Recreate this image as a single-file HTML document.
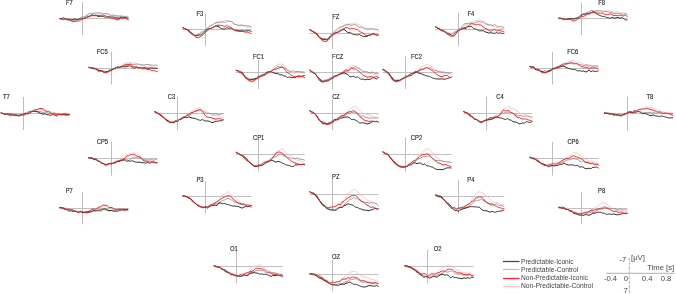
<!DOCTYPE html><html><head><meta charset="utf-8"><style>html,body{margin:0;padding:0;background:#fff;width:676px;height:294px;overflow:hidden;position:relative}</style></head><body><svg width="676" height="294" viewBox="0 0 676 294" style="position:absolute;left:0;top:0;will-change:transform">
<line x1="59.53" y1="18.50" x2="128.53" y2="18.50" stroke="#bababa" stroke-width="0.9"/>
<line x1="82.50" y1="1.84" x2="82.50" y2="35.18" stroke="#bdbdbd" stroke-width="1.0"/>
<line x1="182.53" y1="29.50" x2="251.53" y2="29.50" stroke="#bababa" stroke-width="0.9"/>
<line x1="205.50" y1="13.41" x2="205.50" y2="46.30" stroke="#bdbdbd" stroke-width="1.0"/>
<line x1="309.53" y1="33.50" x2="378.53" y2="33.50" stroke="#bababa" stroke-width="0.9"/>
<line x1="332.50" y1="19.48" x2="332.50" y2="49.01" stroke="#bdbdbd" stroke-width="1.0"/>
<line x1="435.30" y1="29.50" x2="504.30" y2="29.50" stroke="#bababa" stroke-width="0.9"/>
<line x1="458.50" y1="12.65" x2="458.50" y2="46.30" stroke="#bdbdbd" stroke-width="1.0"/>
<line x1="558.46" y1="18.50" x2="627.46" y2="18.50" stroke="#bababa" stroke-width="0.9"/>
<line x1="581.50" y1="2.29" x2="581.50" y2="35.18" stroke="#bdbdbd" stroke-width="1.0"/>
<line x1="88.60" y1="68.50" x2="157.60" y2="68.50" stroke="#bababa" stroke-width="0.9"/>
<line x1="111.50" y1="51.88" x2="111.50" y2="84.46" stroke="#bdbdbd" stroke-width="1.0"/>
<line x1="235.77" y1="72.50" x2="304.77" y2="72.50" stroke="#bababa" stroke-width="0.9"/>
<line x1="258.50" y1="59.93" x2="258.50" y2="88.99" stroke="#bdbdbd" stroke-width="1.0"/>
<line x1="309.53" y1="72.50" x2="378.53" y2="72.50" stroke="#bababa" stroke-width="0.9"/>
<line x1="332.50" y1="59.93" x2="332.50" y2="89.30" stroke="#bdbdbd" stroke-width="1.0"/>
<line x1="382.53" y1="72.50" x2="451.53" y2="72.50" stroke="#bababa" stroke-width="0.9"/>
<line x1="405.50" y1="56.41" x2="405.50" y2="88.99" stroke="#bdbdbd" stroke-width="1.0"/>
<line x1="529.53" y1="68.50" x2="598.53" y2="68.50" stroke="#bababa" stroke-width="0.9"/>
<line x1="552.50" y1="51.88" x2="552.50" y2="84.46" stroke="#bdbdbd" stroke-width="1.0"/>
<line x1="0.71" y1="113.50" x2="69.71" y2="113.50" stroke="#bababa" stroke-width="0.9"/>
<line x1="23.50" y1="96.88" x2="23.50" y2="130.08" stroke="#bdbdbd" stroke-width="1.0"/>
<line x1="154.53" y1="113.50" x2="223.53" y2="113.50" stroke="#bababa" stroke-width="0.9"/>
<line x1="177.50" y1="96.88" x2="177.50" y2="130.08" stroke="#bdbdbd" stroke-width="1.0"/>
<line x1="309.53" y1="113.50" x2="378.53" y2="113.50" stroke="#bababa" stroke-width="0.9"/>
<line x1="332.50" y1="99.18" x2="332.50" y2="130.08" stroke="#bdbdbd" stroke-width="1.0"/>
<line x1="463.30" y1="113.50" x2="532.30" y2="113.50" stroke="#bababa" stroke-width="0.9"/>
<line x1="486.50" y1="96.88" x2="486.50" y2="130.54" stroke="#bdbdbd" stroke-width="1.0"/>
<line x1="604.05" y1="113.50" x2="673.05" y2="113.50" stroke="#bababa" stroke-width="0.9"/>
<line x1="627.50" y1="96.88" x2="627.50" y2="130.54" stroke="#bdbdbd" stroke-width="1.0"/>
<line x1="88.30" y1="158.50" x2="157.30" y2="158.50" stroke="#bababa" stroke-width="0.9"/>
<line x1="111.50" y1="141.88" x2="111.50" y2="175.54" stroke="#bdbdbd" stroke-width="1.0"/>
<line x1="235.77" y1="154.50" x2="304.77" y2="154.50" stroke="#bababa" stroke-width="0.9"/>
<line x1="258.50" y1="139.48" x2="258.50" y2="170.99" stroke="#bdbdbd" stroke-width="1.0"/>
<line x1="382.53" y1="154.50" x2="451.53" y2="154.50" stroke="#bababa" stroke-width="0.9"/>
<line x1="405.50" y1="137.65" x2="405.50" y2="171.61" stroke="#bdbdbd" stroke-width="1.0"/>
<line x1="529.53" y1="158.50" x2="598.53" y2="158.50" stroke="#bababa" stroke-width="0.9"/>
<line x1="552.50" y1="141.88" x2="552.50" y2="175.54" stroke="#bdbdbd" stroke-width="1.0"/>
<line x1="59.23" y1="208.50" x2="128.23" y2="208.50" stroke="#bababa" stroke-width="0.9"/>
<line x1="82.50" y1="191.93" x2="82.50" y2="224.36" stroke="#bdbdbd" stroke-width="1.0"/>
<line x1="182.53" y1="196.50" x2="251.53" y2="196.50" stroke="#bababa" stroke-width="0.9"/>
<line x1="205.50" y1="181.18" x2="205.50" y2="213.61" stroke="#bdbdbd" stroke-width="1.0"/>
<line x1="309.53" y1="194.50" x2="378.53" y2="194.50" stroke="#bababa" stroke-width="0.9"/>
<line x1="332.50" y1="178.41" x2="332.50" y2="210.54" stroke="#bdbdbd" stroke-width="1.0"/>
<line x1="435.30" y1="196.50" x2="504.30" y2="196.50" stroke="#bababa" stroke-width="0.9"/>
<line x1="458.50" y1="180.41" x2="458.50" y2="213.61" stroke="#bdbdbd" stroke-width="1.0"/>
<line x1="558.46" y1="208.50" x2="627.46" y2="208.50" stroke="#bababa" stroke-width="0.9"/>
<line x1="581.50" y1="191.93" x2="581.50" y2="224.36" stroke="#bdbdbd" stroke-width="1.0"/>
<line x1="213.66" y1="266.50" x2="282.66" y2="266.50" stroke="#bababa" stroke-width="0.9"/>
<line x1="236.50" y1="250.71" x2="236.50" y2="283.14" stroke="#bdbdbd" stroke-width="1.0"/>
<line x1="309.53" y1="274.50" x2="378.53" y2="274.50" stroke="#bababa" stroke-width="0.9"/>
<line x1="332.50" y1="259.53" x2="332.50" y2="291.20" stroke="#bdbdbd" stroke-width="1.0"/>
<line x1="404.53" y1="266.50" x2="473.53" y2="266.50" stroke="#bababa" stroke-width="0.9"/>
<line x1="427.50" y1="249.94" x2="427.50" y2="283.14" stroke="#bdbdbd" stroke-width="1.0"/>
<path d="M59.53,18.66 L60.49,18.80 L61.45,18.94 L62.41,18.84 L63.37,18.60 L64.33,18.43 L65.28,18.32 L66.24,18.39 L67.20,18.53 L68.16,19.03 L69.12,19.54 L70.08,19.52 L71.03,19.43 L71.99,19.43 L72.95,19.41 L73.91,19.83 L74.87,20.19 L75.83,20.11 L76.78,19.95 L77.74,19.79 L78.70,19.54 L79.66,18.80 L80.62,18.03 L81.58,17.80 L82.53,17.59 L83.49,17.18 L84.45,16.74 L85.41,15.99 L86.37,15.27 L87.33,15.37 L88.28,15.54 L89.24,15.27 L90.20,15.07 L91.16,15.43 L92.12,15.80 L93.08,15.22 L94.03,14.62 L94.99,14.41 L95.95,14.18 L96.91,14.35 L97.87,14.52 L98.83,14.17 L99.78,13.86 L100.74,13.95 L101.70,14.06 L102.66,13.75 L103.62,13.46 L104.58,13.64 L105.53,13.86 L106.49,14.22 L107.45,14.64 L108.41,14.84 L109.37,15.07 L110.33,15.23 L111.28,15.35 L112.24,15.31 L113.20,15.27 L114.16,15.84 L115.12,16.39 L116.08,16.49 L117.03,16.55 L117.99,16.80 L118.95,17.00 L119.91,16.91 L120.87,16.82 L121.83,17.05 L122.78,17.32 L123.74,17.16 L124.70,17.02 L125.66,17.21 L126.62,17.41 L127.58,17.65 L128.53,17.89 M182.53,27.64 L183.49,28.03 L184.45,28.41 L185.41,28.69 L186.37,28.98 L187.33,29.45 L188.28,30.07 L189.24,30.41 L190.20,30.98 L191.16,31.94 L192.12,32.86 L193.08,34.11 L194.03,35.05 L194.99,35.81 L195.95,36.37 L196.91,35.75 L197.87,34.99 L198.83,34.30 L199.78,33.54 L200.74,33.31 L201.70,32.93 L202.66,32.38 L203.62,31.79 L204.58,30.37 L205.53,29.01 L206.49,28.64 L207.45,28.25 L208.41,27.13 L209.37,26.03 L210.33,25.71 L211.28,25.46 L212.24,24.72 L213.20,24.02 L214.16,23.36 L215.12,22.76 L216.08,22.70 L217.03,22.73 L217.99,21.92 L218.95,21.22 L219.91,21.05 L220.87,20.92 L221.83,21.43 L222.78,21.90 L223.74,21.10 L224.70,20.24 L225.66,20.69 L226.62,21.20 L227.58,20.64 L228.53,20.28 L229.49,20.45 L230.45,20.85 L231.41,21.83 L232.37,22.84 L233.33,23.59 L234.28,24.18 L235.24,24.59 L236.20,24.92 L237.16,25.08 L238.12,25.20 L239.08,25.67 L240.03,26.14 L240.99,25.53 L241.95,24.89 L242.91,25.39 L243.87,25.88 L244.83,26.07 L245.78,26.30 L246.74,26.98 L247.70,27.69 L248.66,27.09 L249.62,26.51 L250.58,27.16 L251.53,27.79 M309.53,29.58 L310.49,30.17 L311.45,30.60 L312.41,30.98 L313.37,31.30 L314.33,31.82 L315.28,32.42 L316.24,33.71 L317.20,35.14 L318.16,35.86 L319.12,36.56 L320.08,37.45 L321.03,38.16 L321.99,38.97 L322.95,39.72 L323.91,39.74 L324.87,39.61 L325.83,40.24 L326.78,40.62 L327.74,39.87 L328.70,38.82 L329.66,37.56 L330.62,36.22 L331.58,35.14 L332.53,34.19 L333.49,33.77 L334.45,33.37 L335.41,32.11 L336.37,30.85 L337.33,30.23 L338.28,29.60 L339.24,28.94 L340.20,28.25 L341.16,27.45 L342.12,26.69 L343.08,25.93 L344.03,25.30 L344.99,24.95 L345.95,24.71 L346.91,24.30 L347.87,23.94 L348.83,23.83 L349.78,23.71 L350.74,23.81 L351.70,23.88 L352.66,23.53 L353.62,23.24 L354.58,22.94 L355.53,22.80 L356.49,23.58 L357.45,24.54 L358.41,24.28 L359.37,24.06 L360.33,25.12 L361.28,26.10 L362.24,26.67 L363.20,27.24 L364.16,27.72 L365.12,28.17 L366.08,28.31 L367.03,28.41 L367.99,28.49 L368.95,28.49 L369.91,28.78 L370.87,29.07 L371.83,29.01 L372.78,29.03 L373.74,29.48 L374.70,29.99 L375.66,29.64 L376.62,29.31 L377.58,30.46 L378.53,31.59 M435.30,26.87 L436.26,27.32 L437.21,27.70 L438.17,27.98 L439.13,28.20 L440.09,28.69 L441.05,29.20 L442.01,29.98 L442.96,30.79 L443.92,31.34 L444.88,31.86 L445.84,32.24 L446.80,32.54 L447.76,33.32 L448.71,34.10 L449.67,34.25 L450.63,34.30 L451.59,34.29 L452.55,34.07 L453.51,33.70 L454.46,33.10 L455.42,32.46 L456.38,31.75 L457.34,30.74 L458.30,29.81 L459.26,29.17 L460.21,28.52 L461.17,28.18 L462.13,27.85 L463.09,27.00 L464.05,26.15 L465.01,25.57 L465.96,24.96 L466.92,24.62 L467.88,24.30 L468.84,23.37 L469.80,22.50 L470.76,22.35 L471.71,22.22 L472.67,21.50 L473.63,20.83 L474.59,20.87 L475.55,20.98 L476.51,20.57 L477.46,20.19 L478.42,19.62 L479.38,19.14 L480.34,19.93 L481.30,20.85 L482.26,20.96 L483.21,21.25 L484.17,21.58 L485.13,21.93 L486.09,23.11 L487.05,24.17 L488.01,24.67 L488.96,25.13 L489.92,25.20 L490.88,25.24 L491.84,25.71 L492.80,26.14 L493.76,26.61 L494.71,27.00 L495.67,27.29 L496.63,27.56 L497.59,27.60 L498.55,27.69 L499.51,27.92 L500.46,28.18 L501.42,28.42 L502.38,28.68 L503.34,28.14 L504.30,27.59 M558.46,18.05 L559.42,18.13 L560.38,18.12 L561.34,18.19 L562.30,18.28 L563.25,18.38 L564.21,18.47 L565.17,18.90 L566.13,19.32 L567.09,19.13 L568.05,18.93 L569.00,19.34 L569.96,19.74 L570.92,19.30 L571.88,18.89 L572.84,19.01 L573.80,19.09 L574.75,19.06 L575.71,18.90 L576.67,18.56 L577.63,18.08 L578.59,17.64 L579.55,17.15 L580.50,16.82 L581.46,16.52 L582.42,16.04 L583.38,15.53 L584.34,14.47 L585.30,13.43 L586.25,13.47 L587.21,13.58 L588.17,12.96 L589.13,12.39 L590.09,12.47 L591.05,12.58 L592.00,11.98 L592.96,11.40 L593.92,11.07 L594.88,10.76 L595.84,10.98 L596.80,11.23 L597.75,11.10 L598.71,10.99 L599.67,10.69 L600.63,10.42 L601.59,10.51 L602.55,10.63 L603.50,10.69 L604.46,10.77 L605.42,10.89 L606.38,11.05 L607.34,10.73 L608.30,10.42 L609.25,10.68 L610.21,10.93 L611.17,11.34 L612.13,11.75 L613.09,11.93 L614.05,12.10 L615.00,12.05 L615.96,12.00 L616.92,11.85 L617.88,11.70 L618.84,12.53 L619.80,13.35 L620.75,13.11 L621.71,12.86 L622.67,12.82 L623.63,12.79 L624.59,13.51 L625.55,14.23 L626.50,14.25 L627.46,14.28 M88.60,67.18 L89.56,67.34 L90.52,67.47 L91.48,68.03 L92.44,68.88 L93.40,68.76 L94.35,68.66 L95.31,69.18 L96.27,69.73 L97.23,69.61 L98.19,69.48 L99.15,69.65 L100.10,69.76 L101.06,70.39 L102.02,71.02 L102.98,71.47 L103.94,71.86 L104.90,71.71 L105.85,71.44 L106.81,71.57 L107.77,71.58 L108.73,71.28 L109.69,70.93 L110.65,70.24 L111.60,69.58 L112.56,69.33 L113.52,69.08 L114.48,68.60 L115.44,68.09 L116.40,68.13 L117.35,68.12 L118.31,67.81 L119.27,67.44 L120.23,66.61 L121.19,65.78 L122.15,65.04 L123.10,64.35 L124.06,63.89 L125.02,63.43 L125.98,63.14 L126.94,62.91 L127.90,62.91 L128.85,62.99 L129.81,62.54 L130.77,62.18 L131.73,62.76 L132.69,63.39 L133.65,62.94 L134.60,62.50 L135.56,62.97 L136.52,63.49 L137.48,64.07 L138.44,64.66 L139.40,65.04 L140.35,65.38 L141.31,65.10 L142.27,64.80 L143.23,65.25 L144.19,65.69 L145.15,66.24 L146.10,66.79 L147.06,66.62 L148.02,66.44 L148.98,65.79 L149.94,65.15 L150.90,65.83 L151.85,66.54 L152.81,67.19 L153.77,67.86 L154.73,67.27 L155.69,66.69 L156.65,67.37 L157.60,68.05 M235.77,70.18 L236.73,70.52 L237.69,70.96 L238.64,71.28 L239.60,71.64 L240.56,71.98 L241.52,72.51 L242.48,73.41 L243.44,74.60 L244.39,76.43 L245.35,78.23 L246.31,78.80 L247.27,79.04 L248.23,79.63 L249.19,80.01 L250.14,80.44 L251.10,80.72 L252.06,80.46 L253.02,80.12 L253.98,79.46 L254.94,78.65 L255.89,78.43 L256.85,78.16 L257.81,77.50 L258.77,76.89 L259.73,76.24 L260.69,75.60 L261.64,75.35 L262.60,75.11 L263.56,74.30 L264.52,73.49 L265.48,73.21 L266.44,72.96 L267.39,72.31 L268.35,71.62 L269.31,71.68 L270.27,71.65 L271.23,70.43 L272.19,69.06 L273.14,68.21 L274.10,67.38 L275.06,66.45 L276.02,65.72 L276.98,65.26 L277.94,64.86 L278.89,64.28 L279.85,63.85 L280.81,64.01 L281.77,64.40 L282.73,64.78 L283.69,65.48 L284.64,65.93 L285.60,66.44 L286.56,68.10 L287.52,69.56 L288.48,69.86 L289.44,70.11 L290.39,71.15 L291.35,72.14 L292.31,72.39 L293.27,72.57 L294.23,72.71 L295.19,72.76 L296.14,72.40 L297.10,71.99 L298.06,72.13 L299.02,72.28 L299.98,72.54 L300.94,72.77 L301.89,72.94 L302.85,73.10 L303.81,72.85 L304.77,72.62 M309.53,70.18 L310.49,70.84 L311.45,71.43 L312.41,71.94 L313.37,72.43 L314.33,73.21 L315.28,74.15 L316.24,75.36 L317.20,76.85 L318.16,78.31 L319.12,79.69 L320.08,80.47 L321.03,80.81 L321.99,81.83 L322.95,82.50 L323.91,81.76 L324.87,80.87 L325.83,80.34 L326.78,79.87 L327.74,79.49 L328.70,79.03 L329.66,78.40 L330.62,77.76 L331.58,77.19 L332.53,76.67 L333.49,76.43 L334.45,76.23 L335.41,76.10 L336.37,75.96 L337.33,75.32 L338.28,74.64 L339.24,74.36 L340.20,74.07 L341.16,73.18 L342.12,72.26 L343.08,72.18 L344.03,72.05 L344.99,70.90 L345.95,69.64 L346.91,69.17 L347.87,68.74 L348.83,67.67 L349.78,66.79 L350.74,66.42 L351.70,66.14 L352.66,65.79 L353.62,65.56 L354.58,65.60 L355.53,65.78 L356.49,66.40 L357.45,67.22 L358.41,67.76 L359.37,68.35 L360.33,69.26 L361.28,70.08 L362.24,70.97 L363.20,71.85 L364.16,71.97 L365.12,72.04 L366.08,72.61 L367.03,73.10 L367.99,73.41 L368.95,73.65 L369.91,73.65 L370.87,73.61 L371.83,73.80 L372.78,73.99 L373.74,74.09 L374.70,74.17 L375.66,74.34 L376.62,74.50 L377.58,74.08 L378.53,73.68 M382.53,69.41 L383.49,69.92 L384.45,70.47 L385.41,71.32 L386.37,72.45 L387.33,72.57 L388.28,72.86 L389.24,74.34 L390.20,76.10 L391.16,77.70 L392.12,79.23 L393.08,80.32 L394.03,80.97 L394.99,81.25 L395.95,81.15 L396.91,80.90 L397.87,80.52 L398.83,79.96 L399.78,79.49 L400.74,79.13 L401.70,78.75 L402.66,78.01 L403.62,77.25 L404.58,77.22 L405.53,77.17 L406.49,76.48 L407.45,75.75 L408.41,75.74 L409.37,75.73 L410.33,75.36 L411.28,75.00 L412.24,74.26 L413.20,73.54 L414.16,72.34 L415.12,71.11 L416.08,71.28 L417.03,71.39 L417.99,70.48 L418.95,69.47 L419.91,68.34 L420.87,67.23 L421.83,66.44 L422.78,65.81 L423.74,65.82 L424.70,65.87 L425.66,65.11 L426.62,64.48 L427.58,64.53 L428.53,64.79 L429.49,65.24 L430.45,65.96 L431.41,67.01 L432.37,68.14 L433.33,68.23 L434.28,68.21 L435.24,69.81 L436.20,71.41 L437.16,71.66 L438.12,71.85 L439.08,72.51 L440.03,73.06 L440.99,73.60 L441.95,74.03 L442.91,74.08 L443.87,74.08 L444.83,73.52 L445.78,72.96 L446.74,73.66 L447.70,74.33 L448.66,74.15 L449.62,73.96 L450.58,73.75 L451.53,73.54 M529.53,66.41 L530.49,66.80 L531.45,67.20 L532.41,67.66 L533.37,68.16 L534.33,68.54 L535.28,68.92 L536.24,69.24 L537.20,69.58 L538.16,69.78 L539.12,69.95 L540.08,70.21 L541.03,70.39 L541.99,70.92 L542.95,71.41 L543.91,71.43 L544.87,71.39 L545.83,71.71 L546.78,71.95 L547.74,71.18 L548.70,70.33 L549.66,69.76 L550.62,69.15 L551.58,68.72 L552.53,68.28 L553.49,68.26 L554.45,68.19 L555.41,68.05 L556.37,67.89 L557.33,66.91 L558.28,65.95 L559.24,65.39 L560.20,64.84 L561.16,64.61 L562.12,64.40 L563.08,64.22 L564.03,64.05 L564.99,63.51 L565.95,62.96 L566.91,62.48 L567.87,62.03 L568.83,61.71 L569.78,61.48 L570.74,61.05 L571.70,60.68 L572.66,60.73 L573.62,60.85 L574.58,61.01 L575.53,61.25 L576.49,61.82 L577.45,62.50 L578.41,62.02 L579.37,61.57 L580.33,62.37 L581.28,63.11 L582.24,63.62 L583.20,64.12 L584.16,64.25 L585.12,64.35 L586.08,64.60 L587.03,64.83 L587.99,64.97 L588.95,65.08 L589.91,65.04 L590.87,64.99 L591.83,65.43 L592.78,65.88 L593.74,66.18 L594.70,66.49 L595.66,66.24 L596.62,66.00 L597.58,66.31 L598.53,66.61 M0.71,112.94 L1.67,113.10 L2.63,113.16 L3.58,113.36 L4.54,113.61 L5.50,113.73 L6.46,113.87 L7.42,113.86 L8.38,113.87 L9.33,114.11 L10.29,114.34 L11.25,114.56 L12.21,114.75 L13.17,115.05 L14.13,115.35 L15.08,115.86 L16.04,116.34 L17.00,116.02 L17.96,115.63 L18.92,115.01 L19.88,114.31 L20.83,114.85 L21.79,115.35 L22.75,114.50 L23.71,113.66 L24.67,113.18 L25.63,112.67 L26.58,112.45 L27.54,112.23 L28.50,111.80 L29.46,111.39 L30.42,111.11 L31.38,110.83 L32.33,110.43 L33.29,110.06 L34.25,109.79 L35.21,109.57 L36.17,109.69 L37.13,109.85 L38.08,109.85 L39.04,109.90 L40.00,109.51 L40.96,109.16 L41.92,109.54 L42.88,109.94 L43.83,109.90 L44.79,109.89 L45.75,110.13 L46.71,110.42 L47.67,110.52 L48.63,110.69 L49.58,111.09 L50.54,111.51 L51.50,112.05 L52.46,112.54 L53.42,112.46 L54.38,112.37 L55.33,112.88 L56.29,113.37 L57.25,113.31 L58.21,113.20 L59.17,113.74 L60.13,114.22 L61.08,114.03 L62.04,113.83 L63.00,113.88 L63.96,113.98 L64.92,113.82 L65.88,113.68 L66.83,113.66 L67.79,113.65 L68.75,114.13 L69.71,114.60 M154.53,111.72 L155.49,112.05 L156.45,112.17 L157.41,112.79 L158.37,113.72 L159.33,114.03 L160.28,114.45 L161.24,115.13 L162.20,115.95 L163.16,117.18 L164.12,118.41 L165.08,119.42 L166.03,120.26 L166.99,120.81 L167.95,121.29 L168.91,121.45 L169.87,121.52 L170.83,121.87 L171.78,122.11 L172.74,122.65 L173.70,123.05 L174.66,121.95 L175.62,120.77 L176.58,120.71 L177.53,120.63 L178.49,120.20 L179.45,119.73 L180.41,119.55 L181.37,119.34 L182.33,118.58 L183.28,117.81 L184.24,117.14 L185.20,116.44 L186.16,115.70 L187.12,114.94 L188.08,114.61 L189.03,114.27 L189.99,113.25 L190.95,112.15 L191.91,111.27 L192.87,110.41 L193.83,109.73 L194.78,109.20 L195.74,108.82 L196.70,108.50 L197.66,107.99 L198.62,107.61 L199.58,107.57 L200.53,107.71 L201.49,108.16 L202.45,108.83 L203.41,109.18 L204.37,109.62 L205.33,110.50 L206.28,111.31 L207.24,112.05 L208.20,112.83 L209.16,113.69 L210.12,114.50 L211.08,115.06 L212.03,115.49 L212.99,115.55 L213.95,115.48 L214.91,115.42 L215.87,115.34 L216.83,115.55 L217.78,115.84 L218.74,116.02 L219.70,116.23 L220.66,116.81 L221.62,117.40 L222.58,117.61 L223.53,117.82 M309.53,110.65 L310.49,111.26 L311.45,112.16 L312.41,112.71 L313.37,113.18 L314.33,113.89 L315.28,114.72 L316.24,115.51 L317.20,116.48 L318.16,118.11 L319.12,119.73 L320.08,120.87 L321.03,121.81 L321.99,122.22 L322.95,122.53 L323.91,123.53 L324.87,124.40 L325.83,124.33 L326.78,124.10 L327.74,123.79 L328.70,123.28 L329.66,123.47 L330.62,123.58 L331.58,122.62 L332.53,121.68 L333.49,121.23 L334.45,120.71 L335.41,119.97 L336.37,119.21 L337.33,118.73 L338.28,118.27 L339.24,117.58 L340.20,116.92 L341.16,116.44 L342.12,115.93 L343.08,115.34 L344.03,114.69 L344.99,114.12 L345.95,113.45 L346.91,112.22 L347.87,111.00 L348.83,110.11 L349.78,109.35 L350.74,108.60 L351.70,107.81 L352.66,107.17 L353.62,106.68 L354.58,106.40 L355.53,106.47 L356.49,106.86 L357.45,107.69 L358.41,108.59 L359.37,109.56 L360.33,110.80 L361.28,111.75 L362.24,112.64 L363.20,113.39 L364.16,113.61 L365.12,113.77 L366.08,114.02 L367.03,114.29 L367.99,114.55 L368.95,114.75 L369.91,114.91 L370.87,115.09 L371.83,115.75 L372.78,116.50 L373.74,116.85 L374.70,117.26 L375.66,117.33 L376.62,117.42 L377.58,118.29 L378.53,119.15 M463.30,111.41 L464.26,111.92 L465.21,112.40 L466.17,112.95 L467.13,113.57 L468.09,113.98 L469.05,114.45 L470.01,114.92 L470.96,115.47 L471.92,116.75 L472.88,118.04 L473.84,118.56 L474.80,119.00 L475.76,119.37 L476.71,119.74 L477.67,120.28 L478.63,120.73 L479.59,121.67 L480.55,122.43 L481.51,121.90 L482.46,121.20 L483.42,121.47 L484.38,121.67 L485.34,121.46 L486.30,121.27 L487.26,120.67 L488.21,120.03 L489.17,119.63 L490.13,119.21 L491.09,118.66 L492.05,118.10 L493.01,117.33 L493.96,116.57 L494.92,116.24 L495.88,115.87 L496.84,114.79 L497.80,113.64 L498.76,113.38 L499.71,112.99 L500.67,111.99 L501.63,111.02 L502.59,110.02 L503.55,109.19 L504.51,108.82 L505.46,108.52 L506.42,107.83 L507.38,107.24 L508.34,106.73 L509.30,106.37 L510.26,107.24 L511.21,108.29 L512.17,108.49 L513.13,108.76 L514.09,109.19 L515.05,109.61 L516.01,110.23 L516.96,110.93 L517.92,111.68 L518.88,112.40 L519.84,113.16 L520.80,113.80 L521.76,113.85 L522.71,113.79 L523.67,114.31 L524.63,114.81 L525.59,114.91 L526.55,115.08 L527.51,115.64 L528.46,116.24 L529.42,116.41 L530.38,116.60 L531.34,117.21 L532.30,117.82 M604.05,112.94 L605.01,113.05 L605.97,113.15 L606.93,113.21 L607.88,113.25 L608.84,112.89 L609.80,112.58 L610.76,113.06 L611.72,113.61 L612.68,114.07 L613.63,114.53 L614.59,114.60 L615.55,114.60 L616.51,114.97 L617.47,115.33 L618.43,115.38 L619.38,115.38 L620.34,115.62 L621.30,115.76 L622.26,114.76 L623.22,113.63 L624.18,113.74 L625.13,113.83 L626.09,113.59 L627.05,113.41 L628.01,113.04 L628.97,112.70 L629.93,112.21 L630.88,111.72 L631.84,111.54 L632.80,111.32 L633.76,110.94 L634.72,110.52 L635.68,110.28 L636.63,110.05 L637.59,109.73 L638.55,109.45 L639.51,108.84 L640.47,108.24 L641.43,108.32 L642.38,108.43 L643.34,108.08 L644.30,107.79 L645.26,107.12 L646.22,106.50 L647.18,106.85 L648.13,107.25 L649.09,107.37 L650.05,107.53 L651.01,107.57 L651.97,107.66 L652.93,108.08 L653.88,108.54 L654.84,108.81 L655.80,109.10 L656.76,109.43 L657.72,109.81 L658.68,110.18 L659.63,110.55 L660.59,111.07 L661.55,111.54 L662.51,111.66 L663.47,111.77 L664.43,112.31 L665.38,112.82 L666.34,112.51 L667.30,112.16 L668.26,112.65 L669.22,113.09 L670.18,112.95 L671.13,112.79 L672.09,112.77 L673.05,112.77 M88.30,157.64 L89.26,157.89 L90.21,157.84 L91.17,158.05 L92.13,158.37 L93.09,158.34 L94.05,158.40 L95.01,159.17 L95.96,160.02 L96.92,160.02 L97.88,160.04 L98.84,160.74 L99.80,161.40 L100.76,162.04 L101.71,162.71 L102.67,163.89 L103.63,165.02 L104.59,165.26 L105.55,165.35 L106.51,165.35 L107.46,165.21 L108.42,164.58 L109.38,163.88 L110.34,163.24 L111.30,162.61 L112.26,162.77 L113.21,162.90 L114.17,162.63 L115.13,162.35 L116.09,161.53 L117.05,160.70 L118.01,160.83 L118.96,160.94 L119.92,160.44 L120.88,159.92 L121.84,158.57 L122.80,157.20 L123.76,156.85 L124.71,156.43 L125.67,155.74 L126.63,155.08 L127.59,154.47 L128.55,154.01 L129.51,153.68 L130.46,153.43 L131.42,153.28 L132.38,153.23 L133.34,153.18 L134.30,153.24 L135.26,154.15 L136.21,155.21 L137.17,155.07 L138.13,154.99 L139.09,155.44 L140.05,155.87 L141.01,157.03 L141.96,158.27 L142.92,158.95 L143.88,159.61 L144.84,159.74 L145.80,159.73 L146.76,160.08 L147.71,160.30 L148.67,160.37 L149.63,160.42 L150.59,160.19 L151.55,160.05 L152.51,160.44 L153.46,160.87 L154.42,161.53 L155.38,162.20 L156.34,162.08 L157.30,161.94 M235.77,152.18 L236.73,152.68 L237.69,153.13 L238.64,153.53 L239.60,153.90 L240.56,154.48 L241.52,155.12 L242.48,155.91 L243.44,156.76 L244.39,156.88 L245.35,157.02 L246.31,157.99 L247.27,158.97 L248.23,160.28 L249.19,161.68 L250.14,162.63 L251.10,163.52 L252.06,164.34 L253.02,164.98 L253.98,165.41 L254.94,165.71 L255.89,165.56 L256.85,165.31 L257.81,165.74 L258.77,166.07 L259.73,165.61 L260.69,164.99 L261.64,164.28 L262.60,163.52 L263.56,162.73 L264.52,162.01 L265.48,161.42 L266.44,160.90 L267.39,160.52 L268.35,160.09 L269.31,159.74 L270.27,159.23 L271.23,158.20 L272.19,156.96 L273.14,155.83 L274.10,154.70 L275.06,153.39 L276.02,152.29 L276.98,151.31 L277.94,150.37 L278.89,150.05 L279.85,149.90 L280.81,149.04 L281.77,148.48 L282.73,148.93 L283.69,149.76 L284.64,151.20 L285.60,152.72 L286.56,153.59 L287.52,154.26 L288.48,154.69 L289.44,155.02 L290.39,155.50 L291.35,155.94 L292.31,156.72 L293.27,157.53 L294.23,158.36 L295.19,159.19 L296.14,159.74 L297.10,160.27 L298.06,160.42 L299.02,160.55 L299.98,160.94 L300.94,161.30 L301.89,161.54 L302.85,161.78 L303.81,162.75 L304.77,163.74 M382.53,151.72 L383.49,152.36 L384.45,153.02 L385.41,153.36 L386.37,153.56 L387.33,154.30 L388.28,155.18 L389.24,156.41 L390.20,157.81 L391.16,158.97 L392.12,160.14 L393.08,161.61 L394.03,162.94 L394.99,163.63 L395.95,164.30 L396.91,165.06 L397.87,165.72 L398.83,166.29 L399.78,166.66 L400.74,167.04 L401.70,167.22 L402.66,166.56 L403.62,165.79 L404.58,166.18 L405.53,166.53 L406.49,165.89 L407.45,165.15 L408.41,164.33 L409.37,163.47 L410.33,162.97 L411.28,162.47 L412.24,161.95 L413.20,161.44 L414.16,160.43 L415.12,159.37 L416.08,159.09 L417.03,158.70 L417.99,156.97 L418.95,155.07 L419.91,154.58 L420.87,154.12 L421.83,152.59 L422.78,151.29 L423.74,150.66 L424.70,150.11 L425.66,149.45 L426.62,148.98 L427.58,148.77 L428.53,148.85 L429.49,149.75 L430.45,151.03 L431.41,151.75 L432.37,152.57 L433.33,153.98 L434.28,155.21 L435.24,156.23 L436.20,157.24 L437.16,157.67 L438.12,158.04 L439.08,159.13 L440.03,160.11 L440.99,160.20 L441.95,160.16 L442.91,160.78 L443.87,161.36 L444.83,161.26 L445.78,161.21 L446.74,161.83 L447.70,162.45 L448.66,162.40 L449.62,162.35 L450.58,162.40 L451.53,162.44 M529.53,157.18 L530.49,157.54 L531.45,157.79 L532.41,158.46 L533.37,159.40 L534.33,159.40 L535.28,159.46 L536.24,160.03 L537.20,160.69 L538.16,161.43 L539.12,162.16 L540.08,162.82 L541.03,163.39 L541.99,163.77 L542.95,164.13 L543.91,164.83 L544.87,165.45 L545.83,165.78 L546.78,165.95 L547.74,165.75 L548.70,165.37 L549.66,165.05 L550.62,164.68 L551.58,163.87 L552.53,163.13 L553.49,163.09 L554.45,163.07 L555.41,162.97 L556.37,162.85 L557.33,162.49 L558.28,162.08 L559.24,162.03 L560.20,161.95 L561.16,161.36 L562.12,160.73 L563.08,160.13 L564.03,159.46 L564.99,158.63 L565.95,157.69 L566.91,156.91 L567.87,156.13 L568.83,155.39 L569.78,154.76 L570.74,154.61 L571.70,154.49 L572.66,153.36 L573.62,152.33 L574.58,152.57 L575.53,153.00 L576.49,152.89 L577.45,152.98 L578.41,153.96 L579.37,155.04 L580.33,155.56 L581.28,156.06 L582.24,156.37 L583.20,156.79 L584.16,157.92 L585.12,159.03 L586.08,159.39 L587.03,159.60 L587.99,160.51 L588.95,161.29 L589.91,161.32 L590.87,161.31 L591.83,161.28 L592.78,161.29 L593.74,161.77 L594.70,162.25 L595.66,162.65 L596.62,163.04 L597.58,163.72 L598.53,164.39 M59.23,207.53 L60.19,207.60 L61.14,207.82 L62.10,207.63 L63.06,207.23 L64.02,207.49 L64.98,207.76 L65.94,208.13 L66.89,208.52 L67.85,209.07 L68.81,209.62 L69.77,209.67 L70.73,209.72 L71.69,209.63 L72.64,209.56 L73.60,210.24 L74.56,210.90 L75.52,211.02 L76.48,211.09 L77.44,211.26 L78.39,211.39 L79.35,211.46 L80.31,211.51 L81.27,211.65 L82.23,211.76 L83.19,211.96 L84.14,212.14 L85.10,212.04 L86.06,211.91 L87.02,211.67 L87.98,211.37 L88.94,210.89 L89.89,210.33 L90.85,209.75 L91.81,209.15 L92.77,209.51 L93.73,209.92 L94.69,209.49 L95.64,209.07 L96.60,208.03 L97.56,207.01 L98.52,207.19 L99.48,207.39 L100.44,207.13 L101.39,206.85 L102.35,206.52 L103.31,206.23 L104.27,206.11 L105.23,206.08 L106.19,206.05 L107.14,206.12 L108.10,206.82 L109.06,207.56 L110.02,207.64 L110.98,207.69 L111.94,208.10 L112.89,208.54 L113.85,208.66 L114.81,208.77 L115.77,208.99 L116.73,209.15 L117.69,209.13 L118.64,209.05 L119.60,209.45 L120.56,209.84 L121.52,209.18 L122.48,208.54 L123.44,209.33 L124.39,210.12 L125.35,209.85 L126.31,209.57 L127.27,209.76 L128.23,209.94 M182.53,195.71 L183.49,196.06 L184.45,196.26 L185.41,196.44 L186.37,196.63 L187.33,196.72 L188.28,196.97 L189.24,197.59 L190.20,198.39 L191.16,199.60 L192.12,200.85 L193.08,201.77 L194.03,202.57 L194.99,203.39 L195.95,204.19 L196.91,204.37 L197.87,204.49 L198.83,205.19 L199.78,205.80 L200.74,206.67 L201.70,207.49 L202.66,207.89 L203.62,208.20 L204.58,207.95 L205.53,207.57 L206.49,206.98 L207.45,206.23 L208.41,206.10 L209.37,205.90 L210.33,204.95 L211.28,204.04 L212.24,203.66 L213.20,203.31 L214.16,202.82 L215.12,202.28 L216.08,201.90 L217.03,201.41 L217.99,200.58 L218.95,199.58 L219.91,198.32 L220.87,197.08 L221.83,195.70 L222.78,194.52 L223.74,194.29 L224.70,194.12 L225.66,193.26 L226.62,192.55 L227.58,192.15 L228.53,191.98 L229.49,192.89 L230.45,194.06 L231.41,195.10 L232.37,196.25 L233.33,196.54 L234.28,196.78 L235.24,197.82 L236.20,198.94 L237.16,199.89 L238.12,200.80 L239.08,201.68 L240.03,202.39 L240.99,203.24 L241.95,203.95 L242.91,204.10 L243.87,204.18 L244.83,204.18 L245.78,204.21 L246.74,204.38 L247.70,204.51 L248.66,204.43 L249.62,204.33 L250.58,204.49 L251.53,204.66 M309.53,191.72 L310.49,192.11 L311.45,192.60 L312.41,192.94 L313.37,193.30 L314.33,193.87 L315.28,194.64 L316.24,195.31 L317.20,196.21 L318.16,197.95 L319.12,199.73 L320.08,201.21 L321.03,202.52 L321.99,203.14 L322.95,203.74 L323.91,205.12 L324.87,206.39 L325.83,207.31 L326.78,208.04 L327.74,208.18 L328.70,208.13 L329.66,207.92 L330.62,207.59 L331.58,207.52 L332.53,207.38 L333.49,207.28 L334.45,207.07 L335.41,206.53 L336.37,205.91 L337.33,205.15 L338.28,204.37 L339.24,203.61 L340.20,202.83 L341.16,202.11 L342.12,201.33 L343.08,200.59 L344.03,199.74 L344.99,198.37 L345.95,196.79 L346.91,195.70 L347.87,194.64 L348.83,193.72 L349.78,193.05 L350.74,191.75 L351.70,190.54 L352.66,189.99 L353.62,189.63 L354.58,189.49 L355.53,189.63 L356.49,190.22 L357.45,191.16 L358.41,192.04 L359.37,193.01 L360.33,194.32 L361.28,195.48 L362.24,196.02 L363.20,196.56 L364.16,197.31 L365.12,198.02 L366.08,198.83 L367.03,199.56 L367.99,200.31 L368.95,200.93 L369.91,200.99 L370.87,201.04 L371.83,201.37 L372.78,201.79 L373.74,202.56 L374.70,203.39 L375.66,203.54 L376.62,203.72 L377.58,204.74 L378.53,205.74 M435.30,194.94 L436.26,194.88 L437.21,194.60 L438.17,195.28 L439.13,196.60 L440.09,196.61 L441.05,196.80 L442.01,197.81 L442.96,199.01 L443.92,199.57 L444.88,200.18 L445.84,200.95 L446.80,201.64 L447.76,202.99 L448.71,204.36 L449.67,205.04 L450.63,205.65 L451.59,206.69 L452.55,207.58 L453.51,208.09 L454.46,208.49 L455.42,208.78 L456.38,208.96 L457.34,208.70 L458.30,208.35 L459.26,208.39 L460.21,208.32 L461.17,207.99 L462.13,207.59 L463.09,207.31 L464.05,207.01 L465.01,206.13 L465.96,205.25 L466.92,205.22 L467.88,205.10 L468.84,204.07 L469.80,202.87 L470.76,201.60 L471.71,200.06 L472.67,198.22 L473.63,196.40 L474.59,195.20 L475.55,194.32 L476.51,193.61 L477.46,193.08 L478.42,192.30 L479.38,191.70 L480.34,192.00 L481.30,192.47 L482.26,192.74 L483.21,193.26 L484.17,193.92 L485.13,194.67 L486.09,195.43 L487.05,196.11 L488.01,197.02 L488.96,197.97 L489.92,198.99 L490.88,199.99 L491.84,200.95 L492.80,201.82 L493.76,201.99 L494.71,202.09 L495.67,202.35 L496.63,202.58 L497.59,203.12 L498.55,203.66 L499.51,204.02 L500.46,204.35 L501.42,204.54 L502.38,204.73 L503.34,204.77 L504.30,204.81 M558.46,207.23 L559.42,207.38 L560.38,207.45 L561.34,207.60 L562.30,207.80 L563.25,207.53 L564.21,207.30 L565.17,207.99 L566.13,208.71 L567.09,208.82 L568.05,208.97 L569.00,209.80 L569.96,210.67 L570.92,210.51 L571.88,210.45 L572.84,210.93 L573.80,211.39 L574.75,212.66 L575.71,213.79 L576.67,213.97 L577.63,214.04 L578.59,213.56 L579.55,213.03 L580.50,212.54 L581.46,212.03 L582.42,212.14 L583.38,212.20 L584.34,212.17 L585.30,212.12 L586.25,211.84 L587.21,211.56 L588.17,211.37 L589.13,211.18 L590.09,210.89 L591.05,210.56 L592.00,210.00 L592.96,209.35 L593.92,208.50 L594.88,207.52 L595.84,206.99 L596.80,206.47 L597.75,205.75 L598.71,205.18 L599.67,204.42 L600.63,203.71 L601.59,203.19 L602.55,202.78 L603.50,202.95 L604.46,203.30 L605.42,203.50 L606.38,203.93 L607.34,204.60 L608.30,205.34 L609.25,206.14 L610.21,206.82 L611.17,207.63 L612.13,208.42 L613.09,209.04 L614.05,209.63 L615.00,209.98 L615.96,210.29 L616.92,210.51 L617.88,210.67 L618.84,210.76 L619.80,210.81 L620.75,210.74 L621.71,210.66 L622.67,211.14 L623.63,211.58 L624.59,211.86 L625.55,212.12 L626.50,211.93 L627.46,211.74 M213.66,265.70 L214.62,265.89 L215.58,266.30 L216.54,266.63 L217.50,267.03 L218.46,267.12 L219.41,267.28 L220.37,267.16 L221.33,267.11 L222.29,268.05 L223.25,269.02 L224.21,269.50 L225.16,269.98 L226.12,270.51 L227.08,271.08 L228.04,271.67 L229.00,272.25 L229.96,272.79 L230.91,273.24 L231.87,273.56 L232.83,273.84 L233.79,274.11 L234.75,274.33 L235.71,274.46 L236.66,274.53 L237.62,275.23 L238.58,275.85 L239.54,275.29 L240.50,274.67 L241.46,274.17 L242.41,273.67 L243.37,273.45 L244.33,273.23 L245.29,273.25 L246.25,273.22 L247.21,273.13 L248.16,272.94 L249.12,272.28 L250.08,271.47 L251.04,270.03 L252.00,268.58 L252.96,267.70 L253.91,266.95 L254.87,266.53 L255.83,266.13 L256.79,265.84 L257.75,265.66 L258.71,265.24 L259.66,265.01 L260.62,265.19 L261.58,265.59 L262.54,266.73 L263.50,267.95 L264.46,267.87 L265.41,267.74 L266.37,268.79 L267.33,269.91 L268.29,270.43 L269.25,270.93 L270.21,271.45 L271.16,271.87 L272.12,272.82 L273.08,273.69 L274.04,273.23 L275.00,272.72 L275.96,273.25 L276.91,273.78 L277.87,273.85 L278.83,273.89 L279.79,273.90 L280.75,273.89 L281.71,274.06 L282.66,274.23 M309.53,273.76 L310.49,273.82 L311.45,274.14 L312.41,274.09 L313.37,273.91 L314.33,273.91 L315.28,273.99 L316.24,274.49 L317.20,275.06 L318.16,275.17 L319.12,275.33 L320.08,275.61 L321.03,275.93 L321.99,277.05 L322.95,278.25 L323.91,278.61 L324.87,278.98 L325.83,279.66 L326.78,280.27 L327.74,280.84 L328.70,281.42 L329.66,281.93 L330.62,282.36 L331.58,282.54 L332.53,282.56 L333.49,282.54 L334.45,282.37 L335.41,281.97 L336.37,281.48 L337.33,281.66 L338.28,281.81 L339.24,281.18 L340.20,280.49 L341.16,279.86 L342.12,279.18 L343.08,278.23 L344.03,277.23 L344.99,276.42 L345.95,275.47 L346.91,274.65 L347.87,273.87 L348.83,273.17 L349.78,272.68 L350.74,272.13 L351.70,271.70 L352.66,271.52 L353.62,271.48 L354.58,271.36 L355.53,271.37 L356.49,272.14 L357.45,273.11 L358.41,273.73 L359.37,274.39 L360.33,275.35 L361.28,276.18 L362.24,276.48 L363.20,276.74 L364.16,276.78 L365.12,276.79 L366.08,277.20 L367.03,277.61 L367.99,278.01 L368.95,278.38 L369.91,278.92 L370.87,279.44 L371.83,279.44 L372.78,279.44 L373.74,279.68 L374.70,279.92 L375.66,280.50 L376.62,281.07 L377.58,281.21 L378.53,281.34 M404.53,265.70 L405.49,265.72 L406.45,265.65 L407.41,265.81 L408.37,266.14 L409.33,266.43 L410.28,266.81 L411.24,267.55 L412.20,268.36 L413.16,269.08 L414.12,269.84 L415.08,269.80 L416.03,269.76 L416.99,270.39 L417.95,271.09 L418.91,271.91 L419.87,272.70 L420.83,273.33 L421.78,273.82 L422.74,274.05 L423.70,274.17 L424.66,274.65 L425.62,275.07 L426.58,275.02 L427.53,274.94 L428.49,274.50 L429.45,274.00 L430.41,273.46 L431.37,272.88 L432.33,273.14 L433.28,273.35 L434.24,273.33 L435.20,273.25 L436.16,272.82 L437.12,272.36 L438.08,271.38 L439.03,270.39 L439.99,269.76 L440.95,269.05 L441.91,268.49 L442.87,267.94 L443.83,267.16 L444.78,266.49 L445.74,265.97 L446.70,265.47 L447.66,265.18 L448.62,264.99 L449.58,265.43 L450.53,266.07 L451.49,266.32 L452.45,266.81 L453.41,267.27 L454.37,267.79 L455.33,268.68 L456.28,269.47 L457.24,269.72 L458.20,269.97 L459.16,270.50 L460.12,271.00 L461.08,271.75 L462.03,272.44 L462.99,272.70 L463.95,272.89 L464.91,272.67 L465.87,272.43 L466.83,273.17 L467.78,273.92 L468.74,273.33 L469.70,272.74 L470.66,273.26 L471.62,273.78 L472.58,274.37 L473.53,274.96" fill="none" stroke="#ffb8b8" stroke-width="0.8" stroke-linejoin="round"/>
<path d="M59.53,18.66 L60.49,18.67 L61.45,18.66 L62.41,19.07 L63.37,19.78 L64.33,19.41 L65.28,19.08 L66.24,19.47 L67.20,19.93 L68.16,20.25 L69.12,20.55 L70.08,20.59 L71.03,20.52 L71.99,20.27 L72.95,19.94 L73.91,20.40 L74.87,20.81 L75.83,20.28 L76.78,19.70 L77.74,19.61 L78.70,19.43 L79.66,18.49 L80.62,17.52 L81.58,17.21 L82.53,16.93 L83.49,16.86 L84.45,16.78 L85.41,16.36 L86.37,15.96 L87.33,14.93 L88.28,13.95 L89.24,13.60 L90.20,13.29 L91.16,13.29 L92.12,13.34 L93.08,13.31 L94.03,13.33 L94.99,13.10 L95.95,12.93 L96.91,12.96 L97.87,13.03 L98.83,12.79 L99.78,12.56 L100.74,12.99 L101.70,13.44 L102.66,13.67 L103.62,13.93 L104.58,13.74 L105.53,13.57 L106.49,13.57 L107.45,13.60 L108.41,14.04 L109.37,14.47 L110.33,15.08 L111.28,15.64 L112.24,15.26 L113.20,14.86 L114.16,15.36 L115.12,15.85 L116.08,15.74 L117.03,15.62 L117.99,15.85 L118.95,16.06 L119.91,16.02 L120.87,15.98 L121.83,16.02 L122.78,16.07 L123.74,16.40 L124.70,16.74 L125.66,16.49 L126.62,16.25 L127.58,16.46 L128.53,16.66 M182.53,27.64 L183.49,28.05 L184.45,28.58 L185.41,28.99 L186.37,29.41 L187.33,30.11 L188.28,30.89 L189.24,31.15 L190.20,31.58 L191.16,32.72 L192.12,33.80 L193.08,34.72 L194.03,35.36 L194.99,35.42 L195.95,35.26 L196.91,34.72 L197.87,34.05 L198.83,33.94 L199.78,33.81 L200.74,32.85 L201.70,31.81 L202.66,31.78 L203.62,31.70 L204.58,30.62 L205.53,29.54 L206.49,28.74 L207.45,27.87 L208.41,27.12 L209.37,26.40 L210.33,25.78 L211.28,25.27 L212.24,24.93 L213.20,24.65 L214.16,23.81 L215.12,23.04 L216.08,22.70 L217.03,22.43 L217.99,22.53 L218.95,22.74 L219.91,22.48 L220.87,22.23 L221.83,22.08 L222.78,21.83 L223.74,22.18 L224.70,22.40 L225.66,21.74 L226.62,21.12 L227.58,21.24 L228.53,21.57 L229.49,21.35 L230.45,21.36 L231.41,21.56 L232.37,21.80 L233.33,23.10 L234.28,24.25 L235.24,24.48 L236.20,24.62 L237.16,25.04 L238.12,25.44 L239.08,25.26 L240.03,25.12 L240.99,25.19 L241.95,25.25 L242.91,25.42 L243.87,25.60 L244.83,25.53 L245.78,25.48 L246.74,25.80 L247.70,26.14 L248.66,26.08 L249.62,26.03 L250.58,26.73 L251.53,27.41 M309.53,29.58 L310.49,30.21 L311.45,30.80 L312.41,31.39 L313.37,32.00 L314.33,32.34 L315.28,32.76 L316.24,33.79 L317.20,34.98 L318.16,35.85 L319.12,36.68 L320.08,37.66 L321.03,38.39 L321.99,38.68 L322.95,38.80 L323.91,38.69 L324.87,38.44 L325.83,38.87 L326.78,39.19 L327.74,38.42 L328.70,37.46 L329.66,36.04 L330.62,34.54 L331.58,34.31 L332.53,34.11 L333.49,32.71 L334.45,31.24 L335.41,30.52 L336.37,29.84 L337.33,28.90 L338.28,28.09 L339.24,27.54 L340.20,27.10 L341.16,26.90 L342.12,26.76 L343.08,26.34 L344.03,25.91 L344.99,25.34 L345.95,24.76 L346.91,24.78 L347.87,24.84 L348.83,24.73 L349.78,24.70 L350.74,24.99 L351.70,25.36 L352.66,24.98 L353.62,24.66 L354.58,24.69 L355.53,24.76 L356.49,25.25 L357.45,25.81 L358.41,26.46 L359.37,27.12 L360.33,27.18 L361.28,27.19 L362.24,27.55 L363.20,27.89 L364.16,28.46 L365.12,29.00 L366.08,29.09 L367.03,29.12 L367.99,29.25 L368.95,29.31 L369.91,29.08 L370.87,28.84 L371.83,28.77 L372.78,28.75 L373.74,28.94 L374.70,29.17 L375.66,29.35 L376.62,29.53 L377.58,29.64 L378.53,29.73 M435.30,26.87 L436.26,27.16 L437.21,27.12 L438.17,27.82 L439.13,28.92 L440.09,29.39 L441.05,29.88 L442.01,30.01 L442.96,30.20 L443.92,30.86 L444.88,31.50 L445.84,31.85 L446.80,32.11 L447.76,32.63 L448.71,33.12 L449.67,33.33 L450.63,33.45 L451.59,33.45 L452.55,33.29 L453.51,32.70 L454.46,31.93 L455.42,31.58 L456.38,31.15 L457.34,30.22 L458.30,29.32 L459.26,28.86 L460.21,28.32 L461.17,27.32 L462.13,26.36 L463.09,25.22 L464.05,24.22 L465.01,23.79 L465.96,23.47 L466.92,23.57 L467.88,23.73 L468.84,23.44 L469.80,23.14 L470.76,23.18 L471.71,23.26 L472.67,23.21 L473.63,23.18 L474.59,22.90 L475.55,22.60 L476.51,22.05 L477.46,21.46 L478.42,21.37 L479.38,21.32 L480.34,21.64 L481.30,22.08 L482.26,21.93 L483.21,21.92 L484.17,22.84 L485.13,23.80 L486.09,23.98 L487.05,24.08 L488.01,24.53 L488.96,24.95 L489.92,24.90 L490.88,24.83 L491.84,25.23 L492.80,25.61 L493.76,25.12 L494.71,24.60 L495.67,25.32 L496.63,26.04 L497.59,26.33 L498.55,26.67 L499.51,26.55 L500.46,26.46 L501.42,26.74 L502.38,27.03 L503.34,27.48 L504.30,27.92 M558.46,18.05 L559.42,18.32 L560.38,18.57 L561.34,18.58 L562.30,18.40 L563.25,18.79 L564.21,19.13 L565.17,19.28 L566.13,19.39 L567.09,19.46 L568.05,19.50 L569.00,19.43 L569.96,19.33 L570.92,18.94 L571.88,18.55 L572.84,18.57 L573.80,18.54 L574.75,18.41 L575.71,18.21 L576.67,17.86 L577.63,17.42 L578.59,16.73 L579.55,16.01 L580.50,15.23 L581.46,14.48 L582.42,14.08 L583.38,13.66 L584.34,13.45 L585.30,13.26 L586.25,12.71 L587.21,12.23 L588.17,12.04 L589.13,11.89 L590.09,11.11 L591.05,10.38 L592.00,10.58 L592.96,10.83 L593.92,11.10 L594.88,11.46 L595.84,10.93 L596.80,10.41 L597.75,10.72 L598.71,10.99 L599.67,10.87 L600.63,10.73 L601.59,11.35 L602.55,11.98 L603.50,11.71 L604.46,11.49 L605.42,11.43 L606.38,11.41 L607.34,11.71 L608.30,12.02 L609.25,12.11 L610.21,12.20 L611.17,12.55 L612.13,12.91 L613.09,13.11 L614.05,13.30 L615.00,13.36 L615.96,13.41 L616.92,13.37 L617.88,13.31 L618.84,13.46 L619.80,13.62 L620.75,13.71 L621.71,13.83 L622.67,14.05 L623.63,14.30 L624.59,13.81 L625.55,13.33 L626.50,14.01 L627.46,14.69 M88.60,67.18 L89.56,67.47 L90.52,67.48 L91.48,67.91 L92.44,68.53 L93.40,68.81 L94.35,69.12 L95.31,68.60 L96.27,68.12 L97.23,68.78 L98.19,69.44 L99.15,70.17 L100.10,70.85 L101.06,70.70 L102.02,70.56 L102.98,71.15 L103.94,71.69 L104.90,71.58 L105.85,71.34 L106.81,71.66 L107.77,71.84 L108.73,70.99 L109.69,70.10 L110.65,69.55 L111.60,69.06 L112.56,69.08 L113.52,69.12 L114.48,68.96 L115.44,68.79 L116.40,68.19 L117.35,67.57 L118.31,67.33 L119.27,67.07 L120.23,66.75 L121.19,66.45 L122.15,65.91 L123.10,65.43 L124.06,65.07 L125.02,64.77 L125.98,65.04 L126.94,65.33 L127.90,65.04 L128.85,64.73 L129.81,64.36 L130.77,63.97 L131.73,64.31 L132.69,64.67 L133.65,64.47 L134.60,64.32 L135.56,64.26 L136.52,64.25 L137.48,64.15 L138.44,64.05 L139.40,64.28 L140.35,64.48 L141.31,64.73 L142.27,64.98 L143.23,65.01 L144.19,65.03 L145.15,64.78 L146.10,64.51 L147.06,64.51 L148.02,64.47 L148.98,64.73 L149.94,64.99 L150.90,64.96 L151.85,64.97 L152.81,65.20 L153.77,65.47 L154.73,65.15 L155.69,64.85 L156.65,65.46 L157.60,66.06 M235.77,70.18 L236.73,70.54 L237.69,70.78 L238.64,70.91 L239.60,70.98 L240.56,71.57 L241.52,72.32 L242.48,73.20 L243.44,74.32 L244.39,75.48 L245.35,76.61 L246.31,77.72 L247.27,78.56 L248.23,79.24 L249.19,79.75 L250.14,79.33 L251.10,78.79 L252.06,79.17 L253.02,79.46 L253.98,79.36 L254.94,79.09 L255.89,77.96 L256.85,76.79 L257.81,76.46 L258.77,76.21 L259.73,75.74 L260.69,75.30 L261.64,74.76 L262.60,74.23 L263.56,74.33 L264.52,74.43 L265.48,73.78 L266.44,73.15 L267.39,73.14 L268.35,73.10 L269.31,72.53 L270.27,71.89 L271.23,71.16 L272.19,70.34 L273.14,69.75 L274.10,69.18 L275.06,68.39 L276.02,67.72 L276.98,66.98 L277.94,66.27 L278.89,66.59 L279.85,67.02 L280.81,66.68 L281.77,66.52 L282.73,67.05 L283.69,67.84 L284.64,67.93 L285.60,68.06 L286.56,69.44 L287.52,70.65 L288.48,71.01 L289.44,71.29 L290.39,71.36 L291.35,71.38 L292.31,71.08 L293.27,70.76 L294.23,71.33 L295.19,71.84 L296.14,71.63 L297.10,71.41 L298.06,71.49 L299.02,71.62 L299.98,71.76 L300.94,71.93 L301.89,71.85 L302.85,71.78 L303.81,72.10 L304.77,72.42 M309.53,70.18 L310.49,70.84 L311.45,71.62 L312.41,71.94 L313.37,72.05 L314.33,73.00 L315.28,74.08 L316.24,75.27 L317.20,76.70 L318.16,78.04 L319.12,79.31 L320.08,80.12 L321.03,80.57 L321.99,80.84 L322.95,80.82 L323.91,80.48 L324.87,80.00 L325.83,79.93 L326.78,79.88 L327.74,79.56 L328.70,79.13 L329.66,78.29 L330.62,77.44 L331.58,77.41 L332.53,77.44 L333.49,76.86 L334.45,76.31 L335.41,75.85 L336.37,75.40 L337.33,74.97 L338.28,74.53 L339.24,74.38 L340.20,74.25 L341.16,73.71 L342.12,73.17 L343.08,72.95 L344.03,72.70 L344.99,72.01 L345.95,71.29 L346.91,71.12 L347.87,70.94 L348.83,69.80 L349.78,68.68 L350.74,68.22 L351.70,67.66 L352.66,67.62 L353.62,67.68 L354.58,67.11 L355.53,66.83 L356.49,67.23 L357.45,67.94 L358.41,68.17 L359.37,68.46 L360.33,69.58 L361.28,70.51 L362.24,70.97 L363.20,71.34 L364.16,71.57 L365.12,71.75 L366.08,71.69 L367.03,71.63 L367.99,72.17 L368.95,72.68 L369.91,72.56 L370.87,72.43 L371.83,72.16 L372.78,71.89 L373.74,72.86 L374.70,73.84 L375.66,73.44 L376.62,73.04 L377.58,73.42 L378.53,73.80 M382.53,69.41 L383.49,69.97 L384.45,70.75 L385.41,71.52 L386.37,72.40 L387.33,72.62 L388.28,72.96 L389.24,74.05 L390.20,75.38 L391.16,76.53 L392.12,77.63 L393.08,78.90 L394.03,79.80 L394.99,80.08 L395.95,80.06 L396.91,80.14 L397.87,80.08 L398.83,80.10 L399.78,80.14 L400.74,79.60 L401.70,78.95 L402.66,78.38 L403.62,77.79 L404.58,76.79 L405.53,75.86 L406.49,75.84 L407.45,75.85 L408.41,75.13 L409.37,74.42 L410.33,74.02 L411.28,73.60 L412.24,73.59 L413.20,73.57 L414.16,73.00 L415.12,72.43 L416.08,72.63 L417.03,72.83 L417.99,71.93 L418.95,71.03 L419.91,70.54 L420.87,70.04 L421.83,69.90 L422.78,69.75 L423.74,68.88 L424.70,67.93 L425.66,67.83 L426.62,67.79 L427.58,67.70 L428.53,67.82 L429.49,67.66 L430.45,67.74 L431.41,68.26 L432.37,68.84 L433.33,69.83 L434.28,70.69 L435.24,70.53 L436.20,70.33 L437.16,70.92 L438.12,71.48 L439.08,71.48 L440.03,71.47 L440.99,71.84 L441.95,72.18 L442.91,72.08 L443.87,71.95 L444.83,72.36 L445.78,72.75 L446.74,72.78 L447.70,72.78 L448.66,73.04 L449.62,73.29 L450.58,72.80 L451.53,72.31 M529.53,66.41 L530.49,66.76 L531.45,67.16 L532.41,67.33 L533.37,67.36 L534.33,68.39 L535.28,69.42 L536.24,69.86 L537.20,70.33 L538.16,70.34 L539.12,70.32 L540.08,71.16 L541.03,71.90 L541.99,71.81 L542.95,71.64 L543.91,71.07 L544.87,70.43 L545.83,70.86 L546.78,71.22 L547.74,70.92 L548.70,70.52 L549.66,70.17 L550.62,69.79 L551.58,69.39 L552.53,69.02 L553.49,68.38 L554.45,67.74 L555.41,67.72 L556.37,67.69 L557.33,67.12 L558.28,66.56 L559.24,66.51 L560.20,66.45 L561.16,65.57 L562.12,64.72 L563.08,63.82 L564.03,62.99 L564.99,63.76 L565.95,64.58 L566.91,64.15 L567.87,63.75 L568.83,63.13 L569.78,62.53 L570.74,62.74 L571.70,62.97 L572.66,62.90 L573.62,62.86 L574.58,63.29 L575.53,63.78 L576.49,63.60 L577.45,63.50 L578.41,64.19 L579.37,64.90 L580.33,64.80 L581.28,64.66 L582.24,65.16 L583.20,65.64 L584.16,65.41 L585.12,65.17 L586.08,65.14 L587.03,65.11 L587.99,65.61 L588.95,66.10 L589.91,65.99 L590.87,65.87 L591.83,66.11 L592.78,66.34 L593.74,65.91 L594.70,65.48 L595.66,65.67 L596.62,65.85 L597.58,66.05 L598.53,66.26 M0.71,112.94 L1.67,113.15 L2.63,113.38 L3.58,113.68 L4.54,114.02 L5.50,114.12 L6.46,114.20 L7.42,114.09 L8.38,113.95 L9.33,114.05 L10.29,114.14 L11.25,114.69 L12.21,115.24 L13.17,115.04 L14.13,114.86 L15.08,114.99 L16.04,115.10 L17.00,115.00 L17.96,114.84 L18.92,115.17 L19.88,115.43 L20.83,115.14 L21.79,114.83 L22.75,114.37 L23.71,113.93 L24.67,113.43 L25.63,112.91 L26.58,113.43 L27.54,113.95 L28.50,113.16 L29.46,112.39 L30.42,112.01 L31.38,111.61 L32.33,111.51 L33.29,111.44 L34.25,111.13 L35.21,110.90 L36.17,111.17 L37.13,111.52 L38.08,111.55 L39.04,111.60 L40.00,111.64 L40.96,111.65 L41.92,112.19 L42.88,112.74 L43.83,112.52 L44.79,112.30 L45.75,112.21 L46.71,112.11 L47.67,112.73 L48.63,113.36 L49.58,113.30 L50.54,113.23 L51.50,113.23 L52.46,113.22 L53.42,113.19 L54.38,113.14 L55.33,113.43 L56.29,113.72 L57.25,113.81 L58.21,113.90 L59.17,113.99 L60.13,114.08 L61.08,114.13 L62.04,114.17 L63.00,114.61 L63.96,115.04 L64.92,115.02 L65.88,114.97 L66.83,114.80 L67.79,114.63 L68.75,114.68 L69.71,114.73 M154.53,111.72 L155.49,112.02 L156.45,112.25 L157.41,112.74 L158.37,113.42 L159.33,114.03 L160.28,114.75 L161.24,115.48 L162.20,116.36 L163.16,117.23 L164.12,118.08 L165.08,119.17 L166.03,120.08 L166.99,120.09 L167.95,120.00 L168.91,121.10 L169.87,122.09 L170.83,122.35 L171.78,122.49 L172.74,122.10 L173.70,121.54 L174.66,121.18 L175.62,120.77 L176.58,120.23 L177.53,119.73 L178.49,119.62 L179.45,119.49 L180.41,118.70 L181.37,117.90 L182.33,117.58 L183.28,117.27 L184.24,117.13 L185.20,117.00 L186.16,116.25 L187.12,115.48 L188.08,115.50 L189.03,115.46 L189.99,114.88 L190.95,114.20 L191.91,113.38 L192.87,112.57 L193.83,111.82 L194.78,111.19 L195.74,111.26 L196.70,111.36 L197.66,110.51 L198.62,109.75 L199.58,109.78 L200.53,109.95 L201.49,110.33 L202.45,110.91 L203.41,111.28 L204.37,111.68 L205.33,112.46 L206.28,113.11 L207.24,113.16 L208.20,113.14 L209.16,113.38 L210.12,113.58 L211.08,113.64 L212.03,113.71 L212.99,113.97 L213.95,114.21 L214.91,113.99 L215.87,113.76 L216.83,114.16 L217.78,114.57 L218.74,114.66 L219.70,114.75 L220.66,114.33 L221.62,113.91 L222.58,113.85 L223.53,113.80 M309.53,110.65 L310.49,111.28 L311.45,112.05 L312.41,112.60 L313.37,113.12 L314.33,113.75 L315.28,114.51 L316.24,115.31 L317.20,116.30 L318.16,117.98 L319.12,119.66 L320.08,120.67 L321.03,121.47 L321.99,122.28 L322.95,123.01 L323.91,123.42 L324.87,123.68 L325.83,124.49 L326.78,125.09 L327.74,123.90 L328.70,122.46 L329.66,122.26 L330.62,121.98 L331.58,121.25 L332.53,120.61 L333.49,120.18 L334.45,119.76 L335.41,119.31 L336.37,118.86 L337.33,118.46 L338.28,118.07 L339.24,117.59 L340.20,117.10 L341.16,116.69 L342.12,116.29 L343.08,116.05 L344.03,115.85 L344.99,115.23 L345.95,114.61 L346.91,114.10 L347.87,113.62 L348.83,113.22 L349.78,112.88 L350.74,112.73 L351.70,112.58 L352.66,112.45 L353.62,112.40 L354.58,112.04 L355.53,111.85 L356.49,112.81 L357.45,113.99 L358.41,114.34 L359.37,114.72 L360.33,115.64 L361.28,116.39 L362.24,116.05 L363.20,115.64 L364.16,116.50 L365.12,117.31 L366.08,117.35 L367.03,117.36 L367.99,117.83 L368.95,118.23 L369.91,118.12 L370.87,117.99 L371.83,117.81 L372.78,117.68 L373.74,117.83 L374.70,118.01 L375.66,117.94 L376.62,117.88 L377.58,117.89 L378.53,117.89 M463.30,111.41 L464.26,111.91 L465.21,112.32 L466.17,113.00 L467.13,113.84 L468.09,114.22 L469.05,114.64 L470.01,115.44 L470.96,116.31 L471.92,116.74 L472.88,117.16 L473.84,117.86 L474.80,118.49 L475.76,119.25 L476.71,120.02 L477.67,120.41 L478.63,120.72 L479.59,121.30 L480.55,121.70 L481.51,122.05 L482.46,122.23 L483.42,121.41 L484.38,120.52 L485.34,120.26 L486.30,120.03 L487.26,119.88 L488.21,119.70 L489.17,119.72 L490.13,119.73 L491.09,119.49 L492.05,119.25 L493.01,118.30 L493.96,117.34 L494.92,116.99 L495.88,116.63 L496.84,116.39 L497.80,116.12 L498.76,115.42 L499.71,114.66 L500.67,113.79 L501.63,112.94 L502.59,113.02 L503.55,113.21 L504.51,112.86 L505.46,112.57 L506.42,112.37 L507.38,112.25 L508.34,112.29 L509.30,112.42 L510.26,112.56 L511.21,112.83 L512.17,113.09 L513.13,113.37 L514.09,114.10 L515.05,114.76 L516.01,114.92 L516.96,115.07 L517.92,115.39 L518.88,115.69 L519.84,115.62 L520.80,115.52 L521.76,115.89 L522.71,116.20 L523.67,116.18 L524.63,116.16 L525.59,116.02 L526.55,115.93 L527.51,116.10 L528.46,116.31 L529.42,116.60 L530.38,116.90 L531.34,117.23 L532.30,117.54 M604.05,112.94 L605.01,112.86 L605.97,112.49 L606.93,112.55 L607.88,112.81 L608.84,113.21 L609.80,113.62 L610.76,113.73 L611.72,113.86 L612.68,113.95 L613.63,114.04 L614.59,114.12 L615.55,114.19 L616.51,114.58 L617.47,114.99 L618.43,114.94 L619.38,114.86 L620.34,114.63 L621.30,114.32 L622.26,114.16 L623.22,113.90 L624.18,113.95 L625.13,113.98 L626.09,113.45 L627.05,112.99 L628.01,112.86 L628.97,112.77 L629.93,112.58 L630.88,112.40 L631.84,112.34 L632.80,112.27 L633.76,111.96 L634.72,111.63 L635.68,111.36 L636.63,111.12 L637.59,111.02 L638.55,110.98 L639.51,111.04 L640.47,111.17 L641.43,111.90 L642.38,112.65 L643.34,112.56 L644.30,112.46 L645.26,112.47 L646.22,112.49 L647.18,112.60 L648.13,112.70 L649.09,112.48 L650.05,112.23 L651.01,112.80 L651.97,113.33 L652.93,112.76 L653.88,112.18 L654.84,112.78 L655.80,113.40 L656.76,113.09 L657.72,112.79 L658.68,112.65 L659.63,112.50 L660.59,113.20 L661.55,113.90 L662.51,113.42 L663.47,112.96 L664.43,113.19 L665.38,113.43 L666.34,113.54 L667.30,113.64 L668.26,113.42 L669.22,113.20 L670.18,113.71 L671.13,114.21 L672.09,113.89 L673.05,113.58 M88.30,157.64 L89.26,157.75 L90.21,157.79 L91.17,158.03 L92.13,158.42 L93.09,158.56 L94.05,158.79 L95.01,159.43 L95.96,160.16 L96.92,160.51 L97.88,160.88 L98.84,161.22 L99.80,161.50 L100.76,162.47 L101.71,163.45 L102.67,163.59 L103.63,163.69 L104.59,164.04 L105.55,164.28 L106.51,164.30 L107.46,164.21 L108.42,163.94 L109.38,163.61 L110.34,163.25 L111.30,162.88 L112.26,163.10 L113.21,163.26 L114.17,162.46 L115.13,161.66 L116.09,161.40 L117.05,161.17 L118.01,161.14 L118.96,161.11 L119.92,160.86 L120.88,160.62 L121.84,160.19 L122.80,159.79 L123.76,160.13 L124.71,160.55 L125.67,160.07 L126.63,159.58 L127.59,160.10 L128.55,160.52 L129.51,160.00 L130.46,159.36 L131.42,158.61 L132.38,157.88 L133.34,157.40 L134.30,157.08 L135.26,157.32 L136.21,157.68 L137.17,157.20 L138.13,156.76 L139.09,157.52 L140.05,158.26 L141.01,158.48 L141.96,158.75 L142.92,159.24 L143.88,159.73 L144.84,159.95 L145.80,160.10 L146.76,159.98 L147.71,159.81 L148.67,159.90 L149.63,159.96 L150.59,159.65 L151.55,159.35 L152.51,159.71 L153.46,160.05 L154.42,159.75 L155.38,159.45 L156.34,159.31 L157.30,159.17 M235.77,152.18 L236.73,152.69 L237.69,153.31 L238.64,153.94 L239.60,154.62 L240.56,154.91 L241.52,155.25 L242.48,156.19 L243.44,157.19 L244.39,157.40 L245.35,157.64 L246.31,158.84 L247.27,160.03 L248.23,160.92 L249.19,161.89 L250.14,162.80 L251.10,163.66 L252.06,164.50 L253.02,165.17 L253.98,165.51 L254.94,165.73 L255.89,166.04 L256.85,166.24 L257.81,165.67 L258.77,165.00 L259.73,165.14 L260.69,165.16 L261.64,165.13 L262.60,165.04 L263.56,164.11 L264.52,163.16 L265.48,162.66 L266.44,162.09 L267.39,162.09 L268.35,162.06 L269.31,160.95 L270.27,159.86 L271.23,159.24 L272.19,158.59 L273.14,157.92 L274.10,157.28 L275.06,156.98 L276.02,156.78 L276.98,155.89 L277.94,155.04 L278.89,154.56 L279.85,154.19 L280.81,154.31 L281.77,154.59 L282.73,155.12 L283.69,155.87 L284.64,155.78 L285.60,155.72 L286.56,156.68 L287.52,157.48 L288.48,157.68 L289.44,157.78 L290.39,158.00 L291.35,158.19 L292.31,158.38 L293.27,158.59 L294.23,158.64 L295.19,158.69 L296.14,158.40 L297.10,158.10 L298.06,158.53 L299.02,158.96 L299.98,159.11 L300.94,159.26 L301.89,159.41 L302.85,159.55 L303.81,159.93 L304.77,160.30 M382.53,151.72 L383.49,152.39 L384.45,152.98 L385.41,153.18 L386.37,153.16 L387.33,153.89 L388.28,154.76 L389.24,156.19 L390.20,157.80 L391.16,158.95 L392.12,160.11 L393.08,161.13 L394.03,161.99 L394.99,162.92 L395.95,163.81 L396.91,164.67 L397.87,165.45 L398.83,165.51 L399.78,165.44 L400.74,165.97 L401.70,166.39 L402.66,166.48 L403.62,166.46 L404.58,166.86 L405.53,167.18 L406.49,166.54 L407.45,165.77 L408.41,164.84 L409.37,163.86 L410.33,163.70 L411.28,163.58 L412.24,163.04 L413.20,162.50 L414.16,161.93 L415.12,161.34 L416.08,160.66 L417.03,159.94 L417.99,159.43 L418.95,158.85 L419.91,158.40 L420.87,157.98 L421.83,157.21 L422.78,156.57 L423.74,156.48 L424.70,156.46 L425.66,156.38 L426.62,156.40 L427.58,156.05 L428.53,155.85 L429.49,155.98 L430.45,156.34 L431.41,157.24 L432.37,158.17 L433.33,159.11 L434.28,159.86 L435.24,160.31 L436.20,160.64 L437.16,160.53 L438.12,160.37 L439.08,160.45 L440.03,160.57 L440.99,160.75 L441.95,160.92 L442.91,161.25 L443.87,161.59 L444.83,161.62 L445.78,161.68 L446.74,161.65 L447.70,161.65 L448.66,161.86 L449.62,162.08 L450.58,162.48 L451.53,162.87 M529.53,157.18 L530.49,157.56 L531.45,157.88 L532.41,157.86 L533.37,157.61 L534.33,158.18 L535.28,158.81 L536.24,159.14 L537.20,159.53 L538.16,160.41 L539.12,161.29 L540.08,162.39 L541.03,163.43 L541.99,164.02 L542.95,164.60 L543.91,164.88 L544.87,165.10 L545.83,165.31 L546.78,165.41 L547.74,165.78 L548.70,166.05 L549.66,166.36 L550.62,166.61 L551.58,165.98 L552.53,165.35 L553.49,165.49 L554.45,165.61 L555.41,165.41 L556.37,165.19 L557.33,164.45 L558.28,163.69 L559.24,163.58 L560.20,163.43 L561.16,162.82 L562.12,162.20 L563.08,162.05 L564.03,161.91 L564.99,161.34 L565.95,160.75 L566.91,160.22 L567.87,159.70 L568.83,159.71 L569.78,159.78 L570.74,159.36 L571.70,158.96 L572.66,158.73 L573.62,158.57 L574.58,158.78 L575.53,159.09 L576.49,159.21 L577.45,159.47 L578.41,160.09 L579.37,160.73 L580.33,161.32 L581.28,161.82 L582.24,161.44 L583.20,161.04 L584.16,161.69 L585.12,162.32 L586.08,162.04 L587.03,161.74 L587.99,162.51 L588.95,163.24 L589.91,163.59 L590.87,163.93 L591.83,163.39 L592.78,162.86 L593.74,163.48 L594.70,164.09 L595.66,164.10 L596.62,164.11 L597.58,164.17 L598.53,164.23 M59.23,207.53 L60.19,207.58 L61.14,207.72 L62.10,208.04 L63.06,208.51 L64.02,208.52 L64.98,208.55 L65.94,209.00 L66.89,209.48 L67.85,209.44 L68.81,209.40 L69.77,209.45 L70.73,209.49 L71.69,210.07 L72.64,210.64 L73.60,210.76 L74.56,210.87 L75.52,210.95 L76.48,211.01 L77.44,211.61 L78.39,212.19 L79.35,211.53 L80.31,210.86 L81.27,211.36 L82.23,211.87 L83.19,211.89 L84.14,211.94 L85.10,212.44 L86.06,212.93 L87.02,212.74 L87.98,212.48 L88.94,212.45 L89.89,212.34 L90.85,212.11 L91.81,211.87 L92.77,211.64 L93.73,211.45 L94.69,211.21 L95.64,210.98 L96.60,210.87 L97.56,210.76 L98.52,210.87 L99.48,210.97 L100.44,211.14 L101.39,211.30 L102.35,210.44 L103.31,209.58 L104.27,209.74 L105.23,209.94 L106.19,209.59 L107.14,209.28 L108.10,209.97 L109.06,210.66 L110.02,210.64 L110.98,210.61 L111.94,210.28 L112.89,209.95 L113.85,210.23 L114.81,210.50 L115.77,210.22 L116.73,209.92 L117.69,209.56 L118.64,209.16 L119.60,209.73 L120.56,210.31 L121.52,209.47 L122.48,208.67 L123.44,208.76 L124.39,208.86 L125.35,209.37 L126.31,209.88 L127.27,209.83 L128.23,209.77 M182.53,195.71 L183.49,195.99 L184.45,196.23 L185.41,196.29 L186.37,196.29 L187.33,196.85 L188.28,197.57 L189.24,197.90 L190.20,198.42 L191.16,200.05 L192.12,201.72 L193.08,201.98 L194.03,202.12 L194.99,203.00 L195.95,203.86 L196.91,204.66 L197.87,205.39 L198.83,206.14 L199.78,206.79 L200.74,207.00 L201.70,207.11 L202.66,207.00 L203.62,206.82 L204.58,207.16 L205.53,207.45 L206.49,207.38 L207.45,207.23 L208.41,206.54 L209.37,205.81 L210.33,205.26 L211.28,204.70 L212.24,204.98 L213.20,205.23 L214.16,204.50 L215.12,203.75 L216.08,203.79 L217.03,203.82 L217.99,203.51 L218.95,203.16 L219.91,202.48 L220.87,201.81 L221.83,201.09 L222.78,200.44 L223.74,200.17 L224.70,199.89 L225.66,199.31 L226.62,198.81 L227.58,198.52 L228.53,198.39 L229.49,198.80 L230.45,199.42 L231.41,199.94 L232.37,200.51 L233.33,201.27 L234.28,201.94 L235.24,202.07 L236.20,202.19 L237.16,202.62 L238.12,203.03 L239.08,203.62 L240.03,204.17 L240.99,204.38 L241.95,204.54 L242.91,204.64 L243.87,204.71 L244.83,205.00 L245.78,205.31 L246.74,204.90 L247.70,204.49 L248.66,205.09 L249.62,205.68 L250.58,205.61 L251.53,205.54 M309.53,191.72 L310.49,192.34 L311.45,193.19 L312.41,193.31 L313.37,193.08 L314.33,194.34 L315.28,195.74 L316.24,196.32 L317.20,197.07 L318.16,198.30 L319.12,199.57 L320.08,200.82 L321.03,201.95 L321.99,203.49 L322.95,205.01 L323.91,205.39 L324.87,205.72 L325.83,206.66 L326.78,207.50 L327.74,207.98 L328.70,208.39 L329.66,208.88 L330.62,209.28 L331.58,209.75 L332.53,210.09 L333.49,209.98 L334.45,209.73 L335.41,209.43 L336.37,209.05 L337.33,208.50 L338.28,207.94 L339.24,207.74 L340.20,207.50 L341.16,206.94 L342.12,206.33 L343.08,205.78 L344.03,205.16 L344.99,204.38 L345.95,203.46 L346.91,202.31 L347.87,201.18 L348.83,200.12 L349.78,199.25 L350.74,199.10 L351.70,199.04 L352.66,198.22 L353.62,197.52 L354.58,198.04 L355.53,198.69 L356.49,198.63 L357.45,198.78 L358.41,199.30 L359.37,199.87 L360.33,200.91 L361.28,201.82 L362.24,201.80 L363.20,201.74 L364.16,202.18 L365.12,202.57 L366.08,202.55 L367.03,202.48 L367.99,202.84 L368.95,203.10 L369.91,203.00 L370.87,202.92 L371.83,202.78 L372.78,202.77 L373.74,203.03 L374.70,203.38 L375.66,203.49 L376.62,203.64 L377.58,204.67 L378.53,205.68 M435.30,194.94 L436.26,195.30 L437.21,195.58 L438.17,195.69 L439.13,195.73 L440.09,196.43 L441.05,197.25 L442.01,197.73 L442.96,198.34 L443.92,199.43 L444.88,200.55 L445.84,201.86 L446.80,203.14 L447.76,203.67 L448.71,204.25 L449.67,204.84 L450.63,205.38 L451.59,206.97 L452.55,208.40 L453.51,208.66 L454.46,208.80 L455.42,209.11 L456.38,209.33 L457.34,209.03 L458.30,208.66 L459.26,208.58 L460.21,208.39 L461.17,208.45 L462.13,208.45 L463.09,208.07 L464.05,207.70 L465.01,207.54 L465.96,207.39 L466.92,206.97 L467.88,206.51 L468.84,206.19 L469.80,205.79 L470.76,204.95 L471.71,203.97 L472.67,203.27 L473.63,202.58 L474.59,201.62 L475.55,200.83 L476.51,200.60 L477.46,200.47 L478.42,200.23 L479.38,200.10 L480.34,199.57 L481.30,199.15 L482.26,199.73 L483.21,200.49 L484.17,200.95 L485.13,201.45 L486.09,202.07 L487.05,202.58 L488.01,203.33 L488.96,204.03 L489.92,203.75 L490.88,203.43 L491.84,203.74 L492.80,204.04 L493.76,204.29 L494.71,204.50 L495.67,204.06 L496.63,203.63 L497.59,204.55 L498.55,205.51 L499.51,205.54 L500.46,205.60 L501.42,205.70 L502.38,205.80 L503.34,206.32 L504.30,206.82 M558.46,207.23 L559.42,207.37 L560.38,207.61 L561.34,207.30 L562.30,206.67 L563.25,207.56 L564.21,208.49 L565.17,208.82 L566.13,209.18 L567.09,209.34 L568.05,209.53 L569.00,210.05 L569.96,210.60 L570.92,210.70 L571.88,210.87 L572.84,211.68 L573.80,212.47 L574.75,212.87 L575.71,213.17 L576.67,213.59 L577.63,213.95 L578.59,214.14 L579.55,214.27 L580.50,214.40 L581.46,214.49 L582.42,214.28 L583.38,214.00 L584.34,213.94 L585.30,213.84 L586.25,213.35 L587.21,212.86 L588.17,213.00 L589.13,213.12 L590.09,212.37 L591.05,211.60 L592.00,211.95 L592.96,212.27 L593.92,212.28 L594.88,212.25 L595.84,211.30 L596.80,210.35 L597.75,209.97 L598.71,209.63 L599.67,209.43 L600.63,209.24 L601.59,209.04 L602.55,208.86 L603.50,208.72 L604.46,208.63 L605.42,208.25 L606.38,207.92 L607.34,207.97 L608.30,208.05 L609.25,208.26 L610.21,208.49 L611.17,208.57 L612.13,208.68 L613.09,208.46 L614.05,208.24 L615.00,208.77 L615.96,209.29 L616.92,209.69 L617.88,210.09 L618.84,209.44 L619.80,208.80 L620.75,209.22 L621.71,209.65 L622.67,209.80 L623.63,209.95 L624.59,209.91 L625.55,209.88 L626.50,209.94 L627.46,210.00 M213.66,265.70 L214.62,266.11 L215.58,266.25 L216.54,266.39 L217.50,266.47 L218.46,266.50 L219.41,266.61 L220.37,267.43 L221.33,268.32 L222.29,269.03 L223.25,269.76 L224.21,270.82 L225.16,271.85 L226.12,271.45 L227.08,271.07 L228.04,271.69 L229.00,272.30 L229.96,272.76 L230.91,273.16 L231.87,273.66 L232.83,274.13 L233.79,275.12 L234.75,276.05 L235.71,276.02 L236.66,275.90 L237.62,275.84 L238.58,275.70 L239.54,275.81 L240.50,275.88 L241.46,275.67 L242.41,275.45 L243.37,275.26 L244.33,275.04 L245.29,275.09 L246.25,275.11 L247.21,274.74 L248.16,274.35 L249.12,273.68 L250.08,272.94 L251.04,272.81 L252.00,272.68 L252.96,272.20 L253.91,271.81 L254.87,271.27 L255.83,270.77 L256.79,270.56 L257.75,270.41 L258.71,270.38 L259.66,270.43 L260.62,270.43 L261.58,270.55 L262.54,270.58 L263.50,270.64 L264.46,271.67 L265.41,272.63 L266.37,272.86 L267.33,273.06 L268.29,272.34 L269.25,271.61 L270.21,272.18 L271.16,272.76 L272.12,272.70 L273.08,272.62 L274.04,272.80 L275.00,272.98 L275.96,273.24 L276.91,273.52 L277.87,273.82 L278.83,274.15 L279.79,274.20 L280.75,274.26 L281.71,274.50 L282.66,274.74 M309.53,273.76 L310.49,273.72 L311.45,273.81 L312.41,274.19 L313.37,274.84 L314.33,274.70 L315.28,274.67 L316.24,275.22 L317.20,275.89 L318.16,276.63 L319.12,277.41 L320.08,277.84 L321.03,278.25 L321.99,278.27 L322.95,278.32 L323.91,279.52 L324.87,280.71 L325.83,281.20 L326.78,281.63 L327.74,281.97 L328.70,282.28 L329.66,283.13 L330.62,283.93 L331.58,283.84 L332.53,283.68 L333.49,284.28 L334.45,284.81 L335.41,284.64 L336.37,284.41 L337.33,284.11 L338.28,283.78 L339.24,283.55 L340.20,283.26 L341.16,283.61 L342.12,283.93 L343.08,283.16 L344.03,282.39 L344.99,282.16 L345.95,281.87 L346.91,281.36 L347.87,280.85 L348.83,280.29 L349.78,279.81 L350.74,279.67 L351.70,279.56 L352.66,279.40 L353.62,279.31 L354.58,278.93 L355.53,278.66 L356.49,279.10 L357.45,279.68 L358.41,280.10 L359.37,280.54 L360.33,281.25 L361.28,281.86 L362.24,282.03 L363.20,282.15 L364.16,281.95 L365.12,281.73 L366.08,281.96 L367.03,282.20 L367.99,282.49 L368.95,282.77 L369.91,282.70 L370.87,282.62 L371.83,282.55 L372.78,282.48 L373.74,283.18 L374.70,283.88 L375.66,283.82 L376.62,283.75 L377.58,283.80 L378.53,283.86 M404.53,265.70 L405.49,266.08 L406.45,266.08 L407.41,266.28 L408.37,266.52 L409.33,266.93 L410.28,267.42 L411.24,267.79 L412.20,268.21 L413.16,268.50 L414.12,268.83 L415.08,269.63 L416.03,270.46 L416.99,271.18 L417.95,271.99 L418.91,273.14 L419.87,274.27 L420.83,274.75 L421.78,275.08 L422.74,275.62 L423.70,276.06 L424.66,276.30 L425.62,276.47 L426.58,276.55 L427.53,276.57 L428.49,276.90 L429.45,277.14 L430.41,276.66 L431.37,276.13 L432.33,276.15 L433.28,276.17 L434.24,276.14 L435.20,276.08 L436.16,275.52 L437.12,274.94 L438.08,274.94 L439.03,274.92 L439.99,274.21 L440.95,273.44 L441.91,273.19 L442.87,272.95 L443.83,272.18 L444.78,271.49 L445.74,271.78 L446.70,272.09 L447.66,271.94 L448.62,271.86 L449.58,271.55 L450.53,271.35 L451.49,271.21 L452.45,271.22 L453.41,271.95 L454.37,272.71 L455.33,273.23 L456.28,273.66 L457.24,274.22 L458.20,274.74 L459.16,274.16 L460.12,273.54 L461.08,274.28 L462.03,275.00 L462.99,275.06 L463.95,275.08 L464.91,274.75 L465.87,274.41 L466.83,274.93 L467.78,275.49 L468.74,275.04 L469.70,274.61 L470.66,275.27 L471.62,275.93 L472.58,276.16 L473.53,276.39" fill="none" stroke="#8e8e8e" stroke-width="0.9" stroke-linejoin="round"/>
<path d="M59.53,18.66 L60.49,18.73 L61.45,18.89 L62.41,18.46 L63.37,17.67 L64.33,18.38 L65.28,19.10 L66.24,19.27 L67.20,19.45 L68.16,19.29 L69.12,19.12 L70.08,19.63 L71.03,20.09 L71.99,19.92 L72.95,19.74 L73.91,19.33 L74.87,18.90 L75.83,19.36 L76.78,19.79 L77.74,19.49 L78.70,19.16 L79.66,19.07 L80.62,18.95 L81.58,18.78 L82.53,18.59 L83.49,18.59 L84.45,18.54 L85.41,17.90 L86.37,17.25 L87.33,16.85 L88.28,16.51 L89.24,16.31 L90.20,16.12 L91.16,15.36 L92.12,14.65 L93.08,15.20 L94.03,15.85 L94.99,15.45 L95.95,15.19 L96.91,15.86 L97.87,16.55 L98.83,16.49 L99.78,16.32 L100.74,16.40 L101.70,16.39 L102.66,16.42 L103.62,16.44 L104.58,16.88 L105.53,17.37 L106.49,17.15 L107.45,16.96 L108.41,16.77 L109.37,16.60 L110.33,16.80 L111.28,17.00 L112.24,16.96 L113.20,16.95 L114.16,17.39 L115.12,17.82 L116.08,17.84 L117.03,17.79 L117.99,18.07 L118.95,18.28 L119.91,17.69 L120.87,17.09 L121.83,17.23 L122.78,17.44 L123.74,17.38 L124.70,17.38 L125.66,17.55 L126.62,17.73 L127.58,18.21 L128.53,18.68 M182.53,27.64 L183.49,28.06 L184.45,28.59 L185.41,29.09 L186.37,29.64 L187.33,29.67 L188.28,29.79 L189.24,31.17 L190.20,32.69 L191.16,33.01 L192.12,33.30 L193.08,34.36 L194.03,35.20 L194.99,35.54 L195.95,35.74 L196.91,35.62 L197.87,35.38 L198.83,35.19 L199.78,34.91 L200.74,34.85 L201.70,34.62 L202.66,33.71 L203.62,32.76 L204.58,31.94 L205.53,31.20 L206.49,30.12 L207.45,29.05 L208.41,28.75 L209.37,28.49 L210.33,28.45 L211.28,28.47 L212.24,27.86 L213.20,27.27 L214.16,26.67 L215.12,26.16 L216.08,26.07 L217.03,26.13 L217.99,26.40 L218.95,26.87 L219.91,27.60 L220.87,28.34 L221.83,28.70 L222.78,28.88 L223.74,29.04 L224.70,29.04 L225.66,28.42 L226.62,27.78 L227.58,28.01 L228.53,28.39 L229.49,28.18 L230.45,28.06 L231.41,28.39 L232.37,28.74 L233.33,29.52 L234.28,30.25 L235.24,30.16 L236.20,30.10 L237.16,30.37 L238.12,30.60 L239.08,30.80 L240.03,30.91 L240.99,30.86 L241.95,30.69 L242.91,30.93 L243.87,31.17 L244.83,30.97 L245.78,30.86 L246.74,30.75 L247.70,30.70 L248.66,30.73 L249.62,30.78 L250.58,31.13 L251.53,31.47 M309.53,29.58 L310.49,30.18 L311.45,30.75 L312.41,31.31 L313.37,31.89 L314.33,32.18 L315.28,32.55 L316.24,33.31 L317.20,34.22 L318.16,35.66 L319.12,37.08 L320.08,37.79 L321.03,38.30 L321.99,38.88 L322.95,39.37 L323.91,39.45 L324.87,39.39 L325.83,39.66 L326.78,39.73 L327.74,39.22 L328.70,38.44 L329.66,37.53 L330.62,36.55 L331.58,35.69 L332.53,34.96 L333.49,34.05 L334.45,33.15 L335.41,32.82 L336.37,32.53 L337.33,32.19 L338.28,31.94 L339.24,31.08 L340.20,30.25 L341.16,30.08 L342.12,30.01 L343.08,29.62 L344.03,29.39 L344.99,30.05 L345.95,30.92 L346.91,31.79 L347.87,32.71 L348.83,32.61 L349.78,32.39 L350.74,32.96 L351.70,33.48 L352.66,34.09 L353.62,34.68 L354.58,34.66 L355.53,34.64 L356.49,34.82 L357.45,34.99 L358.41,34.73 L359.37,34.45 L360.33,35.06 L361.28,35.63 L362.24,35.99 L363.20,36.34 L364.16,36.53 L365.12,36.70 L366.08,36.52 L367.03,36.29 L367.99,35.89 L368.95,35.40 L369.91,35.13 L370.87,34.85 L371.83,34.37 L372.78,33.96 L373.74,34.06 L374.70,34.21 L375.66,34.71 L376.62,35.24 L377.58,34.99 L378.53,34.73 M435.30,26.87 L436.26,27.43 L437.21,28.16 L438.17,28.41 L439.13,28.40 L440.09,29.58 L441.05,30.74 L442.01,30.71 L442.96,30.68 L443.92,31.33 L444.88,31.98 L445.84,32.95 L446.80,33.90 L447.76,33.88 L448.71,33.93 L449.67,34.33 L450.63,34.62 L451.59,35.26 L452.55,35.63 L453.51,35.01 L454.46,34.07 L455.42,33.13 L456.38,32.12 L457.34,31.31 L458.30,30.69 L459.26,30.16 L460.21,29.73 L461.17,29.33 L462.13,28.95 L463.09,28.61 L464.05,28.25 L465.01,28.40 L465.96,28.47 L466.92,27.44 L467.88,26.48 L468.84,26.55 L469.80,26.85 L470.76,26.54 L471.71,26.46 L472.67,27.51 L473.63,28.61 L474.59,28.83 L475.55,28.91 L476.51,29.43 L477.46,29.89 L478.42,30.37 L479.38,30.84 L480.34,30.79 L481.30,30.77 L482.26,30.71 L483.21,30.66 L484.17,31.25 L485.13,31.83 L486.09,32.16 L487.05,32.46 L488.01,32.81 L488.96,33.13 L489.92,32.92 L490.88,32.68 L491.84,32.93 L492.80,33.16 L493.76,33.29 L494.71,33.38 L495.67,32.99 L496.63,32.58 L497.59,32.91 L498.55,33.25 L499.51,33.09 L500.46,32.93 L501.42,33.21 L502.38,33.50 L503.34,33.37 L504.30,33.25 M558.46,18.05 L559.42,18.24 L560.38,18.39 L561.34,18.60 L562.30,18.81 L563.25,19.10 L564.21,19.34 L565.17,19.34 L566.13,19.29 L567.09,19.26 L568.05,19.22 L569.00,18.92 L569.96,18.64 L570.92,18.63 L571.88,18.67 L572.84,18.86 L573.80,19.01 L574.75,18.73 L575.71,18.32 L576.67,18.26 L577.63,18.07 L578.59,17.43 L579.55,16.76 L580.50,15.97 L581.46,15.25 L582.42,14.79 L583.38,14.34 L584.34,14.28 L585.30,14.24 L586.25,13.86 L587.21,13.51 L588.17,13.77 L589.13,14.01 L590.09,13.35 L591.05,12.77 L592.00,12.24 L592.96,11.89 L593.92,12.21 L594.88,12.75 L595.84,13.24 L596.80,13.76 L597.75,14.42 L598.71,14.94 L599.67,15.39 L600.63,15.79 L601.59,16.11 L602.55,16.41 L603.50,16.48 L604.46,16.55 L605.42,17.05 L606.38,17.52 L607.34,17.61 L608.30,17.68 L609.25,18.08 L610.21,18.47 L611.17,17.83 L612.13,17.18 L613.09,17.71 L614.05,18.22 L615.00,18.05 L615.96,17.88 L616.92,17.66 L617.88,17.42 L618.84,17.75 L619.80,18.09 L620.75,17.84 L621.71,17.62 L622.67,18.08 L623.63,18.56 L624.59,19.32 L625.55,20.08 L626.50,19.90 L627.46,19.71 M88.60,67.18 L89.56,67.49 L90.52,67.69 L91.48,68.07 L92.44,68.55 L93.40,68.32 L94.35,68.13 L95.31,68.67 L96.27,69.26 L97.23,70.24 L98.19,71.22 L99.15,70.77 L100.10,70.27 L101.06,70.68 L102.02,71.11 L102.98,71.84 L103.94,72.50 L104.90,72.29 L105.85,71.93 L106.81,71.75 L107.77,71.42 L108.73,70.84 L109.69,70.21 L110.65,70.34 L111.60,70.54 L112.56,69.64 L113.52,68.74 L114.48,68.43 L115.44,68.15 L116.40,67.47 L117.35,66.82 L118.31,67.13 L119.27,67.46 L120.23,67.06 L121.19,66.69 L122.15,66.65 L123.10,66.64 L124.06,66.80 L125.02,66.99 L125.98,66.65 L126.94,66.35 L127.90,66.10 L128.85,65.88 L129.81,66.07 L130.77,66.32 L131.73,66.82 L132.69,67.31 L133.65,67.81 L134.60,68.23 L135.56,67.73 L136.52,67.18 L137.48,67.37 L138.44,67.55 L139.40,67.55 L140.35,67.57 L141.31,67.79 L142.27,68.03 L143.23,67.74 L144.19,67.45 L145.15,67.78 L146.10,68.08 L147.06,68.21 L148.02,68.32 L148.98,68.13 L149.94,67.94 L150.90,67.92 L151.85,67.90 L152.81,68.06 L153.77,68.22 L154.73,68.21 L155.69,68.21 L156.65,68.36 L157.60,68.51 M235.77,70.18 L236.73,70.59 L237.69,70.78 L238.64,71.47 L239.60,72.48 L240.56,72.13 L241.52,71.94 L242.48,73.04 L243.44,74.37 L244.39,75.88 L245.35,77.37 L246.31,77.76 L247.27,77.89 L248.23,78.85 L249.19,79.64 L250.14,79.73 L251.10,79.71 L252.06,79.42 L253.02,79.09 L253.98,78.97 L254.94,78.74 L255.89,78.74 L256.85,78.69 L257.81,77.77 L258.77,76.86 L259.73,76.54 L260.69,76.18 L261.64,75.66 L262.60,75.16 L263.56,74.82 L264.52,74.55 L265.48,73.40 L266.44,72.26 L267.39,72.03 L268.35,71.86 L269.31,71.66 L270.27,71.56 L271.23,71.81 L272.19,72.17 L273.14,72.57 L274.10,73.02 L275.06,73.33 L276.02,73.61 L276.98,73.58 L277.94,73.56 L278.89,74.20 L279.85,74.87 L280.81,74.79 L281.77,74.74 L282.73,75.27 L283.69,75.87 L284.64,76.00 L285.60,76.10 L286.56,76.82 L287.52,77.44 L288.48,77.23 L289.44,76.94 L290.39,77.35 L291.35,77.73 L292.31,77.59 L293.27,77.45 L294.23,77.59 L295.19,77.71 L296.14,77.05 L297.10,76.39 L298.06,76.08 L299.02,75.78 L299.98,76.10 L300.94,76.42 L301.89,76.17 L302.85,75.93 L303.81,75.61 L304.77,75.30 M309.53,70.18 L310.49,70.78 L311.45,71.54 L312.41,72.19 L313.37,72.87 L314.33,73.21 L315.28,73.67 L316.24,74.94 L317.20,76.44 L318.16,77.44 L319.12,78.39 L320.08,79.34 L321.03,79.96 L321.99,81.10 L322.95,82.00 L323.91,81.50 L324.87,80.85 L325.83,81.05 L326.78,81.22 L327.74,80.96 L328.70,80.57 L329.66,79.87 L330.62,79.13 L331.58,78.80 L332.53,78.51 L333.49,77.72 L334.45,76.92 L335.41,76.35 L336.37,75.81 L337.33,75.26 L338.28,74.77 L339.24,74.48 L340.20,74.19 L341.16,73.84 L342.12,73.57 L343.08,73.12 L344.03,72.82 L344.99,73.19 L345.95,73.73 L346.91,74.10 L347.87,74.51 L348.83,75.71 L349.78,76.81 L350.74,76.75 L351.70,76.65 L352.66,76.44 L353.62,76.23 L354.58,76.77 L355.53,77.33 L356.49,77.07 L357.45,76.81 L358.41,77.49 L359.37,78.16 L360.33,78.80 L361.28,79.41 L362.24,79.21 L363.20,79.00 L364.16,79.43 L365.12,79.82 L366.08,79.53 L367.03,79.19 L367.99,79.34 L368.95,79.42 L369.91,79.26 L370.87,79.07 L371.83,78.33 L372.78,77.60 L373.74,77.79 L374.70,77.98 L375.66,78.46 L376.62,78.94 L377.58,78.19 L378.53,77.45 M382.53,69.41 L383.49,69.87 L384.45,70.40 L385.41,71.05 L386.37,71.86 L387.33,72.18 L388.28,72.62 L389.24,73.96 L390.20,75.51 L391.16,76.69 L392.12,77.82 L393.08,79.24 L394.03,80.34 L394.99,80.80 L395.95,81.02 L396.91,80.77 L397.87,80.39 L398.83,80.42 L399.78,80.42 L400.74,79.80 L401.70,79.05 L402.66,78.64 L403.62,78.19 L404.58,77.71 L405.53,77.30 L406.49,76.88 L407.45,76.49 L408.41,76.13 L409.37,75.77 L410.33,75.66 L411.28,75.53 L412.24,74.57 L413.20,73.54 L414.16,73.15 L415.12,72.83 L416.08,72.14 L417.03,71.65 L417.99,72.38 L418.95,73.32 L419.91,73.33 L420.87,73.39 L421.83,73.99 L422.78,74.50 L423.74,74.81 L424.70,75.08 L425.66,75.51 L426.62,75.95 L427.58,76.04 L428.53,76.17 L429.49,76.53 L430.45,76.94 L431.41,77.45 L432.37,77.95 L433.33,78.23 L434.28,78.44 L435.24,78.75 L436.20,79.01 L437.16,78.94 L438.12,78.83 L439.08,78.99 L440.03,79.11 L440.99,78.93 L441.95,78.70 L442.91,79.04 L443.87,79.35 L444.83,79.18 L445.78,79.00 L446.74,78.73 L447.70,78.44 L448.66,78.10 L449.62,77.75 L450.58,77.27 L451.53,76.79 M529.53,66.41 L530.49,66.73 L531.45,66.80 L532.41,66.75 L533.37,66.53 L534.33,68.04 L535.28,69.55 L536.24,69.60 L537.20,69.68 L538.16,69.74 L539.12,69.78 L540.08,70.65 L541.03,71.45 L541.99,71.67 L542.95,71.88 L543.91,72.37 L544.87,72.79 L545.83,72.38 L546.78,71.86 L547.74,71.45 L548.70,70.88 L549.66,70.67 L550.62,70.43 L551.58,69.44 L552.53,68.56 L553.49,68.48 L554.45,68.46 L555.41,68.14 L556.37,67.85 L557.33,67.78 L558.28,67.69 L559.24,67.28 L560.20,66.84 L561.16,66.52 L562.12,66.24 L563.08,66.16 L564.03,66.22 L564.99,66.72 L565.95,67.37 L566.91,67.69 L567.87,68.03 L568.83,68.40 L569.78,68.67 L570.74,68.99 L571.70,69.24 L572.66,69.40 L573.62,69.55 L574.58,69.59 L575.53,69.69 L576.49,70.27 L577.45,70.91 L578.41,70.80 L579.37,70.68 L580.33,70.96 L581.28,71.18 L582.24,71.11 L583.20,70.99 L584.16,71.39 L585.12,71.77 L586.08,71.86 L587.03,71.95 L587.99,70.98 L588.95,70.00 L589.91,70.84 L590.87,71.69 L591.83,71.25 L592.78,70.82 L593.74,71.14 L594.70,71.47 L595.66,71.41 L596.62,71.35 L597.58,71.05 L598.53,70.74 M0.71,112.94 L1.67,113.10 L2.63,113.50 L3.58,113.92 L4.54,114.43 L5.50,114.15 L6.46,113.85 L7.42,113.99 L8.38,114.11 L9.33,114.21 L10.29,114.30 L11.25,114.24 L12.21,114.18 L13.17,114.71 L14.13,115.25 L15.08,114.99 L16.04,114.72 L17.00,115.32 L17.96,115.86 L18.92,115.84 L19.88,115.75 L20.83,115.20 L21.79,114.63 L22.75,114.38 L23.71,114.15 L24.67,113.77 L25.63,113.40 L26.58,113.60 L27.54,113.79 L28.50,113.39 L29.46,112.98 L30.42,112.35 L31.38,111.66 L32.33,111.44 L33.29,111.27 L34.25,111.37 L35.21,111.63 L36.17,111.53 L37.13,111.59 L38.08,112.17 L39.04,112.78 L40.00,113.11 L40.96,113.36 L41.92,113.84 L42.88,114.28 L43.83,114.09 L44.79,113.87 L45.75,114.26 L46.71,114.65 L47.67,114.78 L48.63,114.92 L49.58,115.08 L50.54,115.23 L51.50,114.94 L52.46,114.63 L53.42,114.80 L54.38,114.96 L55.33,115.47 L56.29,115.97 L57.25,115.33 L58.21,114.69 L59.17,114.56 L60.13,114.41 L61.08,114.50 L62.04,114.60 L63.00,114.26 L63.96,113.94 L64.92,114.03 L65.88,114.15 L66.83,114.30 L67.79,114.46 L68.75,114.56 L69.71,114.65 M154.53,111.72 L155.49,112.14 L156.45,112.70 L157.41,113.06 L158.37,113.39 L159.33,114.30 L160.28,115.32 L161.24,116.03 L162.20,116.89 L163.16,117.19 L164.12,117.48 L165.08,118.65 L166.03,119.65 L166.99,120.28 L167.95,120.83 L168.91,121.70 L169.87,122.48 L170.83,122.53 L171.78,122.48 L172.74,122.48 L173.70,122.34 L174.66,121.67 L175.62,120.94 L176.58,121.21 L177.53,121.51 L178.49,120.45 L179.45,119.34 L180.41,119.17 L181.37,119.01 L182.33,118.41 L183.28,117.87 L184.24,117.61 L185.20,117.37 L186.16,117.41 L187.12,117.49 L188.08,117.12 L189.03,116.82 L189.99,117.23 L190.95,117.72 L191.91,117.87 L192.87,118.06 L193.83,118.20 L194.78,118.32 L195.74,118.69 L196.70,119.09 L197.66,119.48 L198.62,119.86 L199.58,120.11 L200.53,120.32 L201.49,119.98 L202.45,119.60 L203.41,120.10 L204.37,120.60 L205.33,120.78 L206.28,120.99 L207.24,120.96 L208.20,120.99 L209.16,121.33 L210.12,121.64 L211.08,122.22 L212.03,122.67 L212.99,122.46 L213.95,122.11 L214.91,121.68 L215.87,121.22 L216.83,121.19 L217.78,121.24 L218.74,120.95 L219.70,120.70 L220.66,120.76 L221.62,120.83 L222.58,120.25 L223.53,119.65 M309.53,110.65 L310.49,111.15 L311.45,111.67 L312.41,112.04 L313.37,112.39 L314.33,113.14 L315.28,114.05 L316.24,115.28 L317.20,116.75 L318.16,118.49 L319.12,120.20 L320.08,121.08 L321.03,121.69 L321.99,122.82 L322.95,123.81 L323.91,123.69 L324.87,123.41 L325.83,123.80 L326.78,124.04 L327.74,123.83 L328.70,123.38 L329.66,123.13 L330.62,122.82 L331.58,122.33 L332.53,121.95 L333.49,120.71 L334.45,119.50 L335.41,119.66 L336.37,119.83 L337.33,119.82 L338.28,119.79 L339.24,119.01 L340.20,118.17 L341.16,118.05 L342.12,117.99 L343.08,117.56 L344.03,117.29 L344.99,117.12 L345.95,117.10 L346.91,117.00 L347.87,116.96 L348.83,117.49 L349.78,118.00 L350.74,118.84 L351.70,119.70 L352.66,119.55 L353.62,119.40 L354.58,119.76 L355.53,120.11 L356.49,120.65 L357.45,121.21 L358.41,122.02 L359.37,122.80 L360.33,122.90 L361.28,122.93 L362.24,122.82 L363.20,122.68 L364.16,123.07 L365.12,123.40 L366.08,123.73 L367.03,123.96 L367.99,123.82 L368.95,123.52 L369.91,123.11 L370.87,122.70 L371.83,122.06 L372.78,121.59 L373.74,121.53 L374.70,121.60 L375.66,121.44 L376.62,121.32 L377.58,121.62 L378.53,121.87 M463.30,111.41 L464.26,111.85 L465.21,112.39 L466.17,112.66 L467.13,112.80 L468.09,113.68 L469.05,114.62 L470.01,115.05 L470.96,115.56 L471.92,116.53 L472.88,117.50 L473.84,118.57 L474.80,119.56 L475.76,119.47 L476.71,119.38 L477.67,120.18 L478.63,120.90 L479.59,121.48 L480.55,121.89 L481.51,121.98 L482.46,121.89 L483.42,121.42 L484.38,120.88 L485.34,120.50 L486.30,120.17 L487.26,119.99 L488.21,119.82 L489.17,119.49 L490.13,119.15 L491.09,119.13 L492.05,119.11 L493.01,118.60 L493.96,118.03 L494.92,117.75 L495.88,117.51 L496.84,117.30 L497.80,117.24 L498.76,117.49 L499.71,117.91 L500.67,117.99 L501.63,118.11 L502.59,118.54 L503.55,118.87 L504.51,119.23 L505.46,119.53 L506.42,119.03 L507.38,118.54 L508.34,119.16 L509.30,119.85 L510.26,119.94 L511.21,120.11 L512.17,120.92 L513.13,121.74 L514.09,121.89 L515.05,121.98 L516.01,122.19 L516.96,122.40 L517.92,123.14 L518.88,123.84 L519.84,123.67 L520.80,123.41 L521.76,123.28 L522.71,123.02 L523.67,123.06 L524.63,123.07 L525.59,122.28 L526.55,121.57 L527.51,121.86 L528.46,122.18 L529.42,122.34 L530.38,122.50 L531.34,122.04 L532.30,121.57 M604.05,112.94 L605.01,113.10 L605.97,113.55 L606.93,113.60 L607.88,113.47 L608.84,113.91 L609.80,114.35 L610.76,114.04 L611.72,113.73 L612.68,114.02 L613.63,114.32 L614.59,114.51 L615.55,114.71 L616.51,114.77 L617.47,114.86 L618.43,114.98 L619.38,115.07 L620.34,115.46 L621.30,115.73 L622.26,115.38 L623.22,114.89 L624.18,114.43 L625.13,113.94 L626.09,113.73 L627.05,113.61 L628.01,112.64 L628.97,111.73 L629.93,112.02 L630.88,112.32 L631.84,112.59 L632.80,112.85 L633.76,112.56 L634.72,112.24 L635.68,112.13 L636.63,112.06 L637.59,111.75 L638.55,111.53 L639.51,111.91 L640.47,112.38 L641.43,113.04 L642.38,113.73 L643.34,113.62 L644.30,113.49 L645.26,113.64 L646.22,113.80 L647.18,114.24 L648.13,114.66 L649.09,115.20 L650.05,115.70 L651.01,115.50 L651.97,115.26 L652.93,115.16 L653.88,115.05 L654.84,115.57 L655.80,116.11 L656.76,116.11 L657.72,116.11 L658.68,116.36 L659.63,116.60 L660.59,116.31 L661.55,116.01 L662.51,116.24 L663.47,116.47 L664.43,116.73 L665.38,116.98 L666.34,117.19 L667.30,117.38 L668.26,117.71 L669.22,118.03 L670.18,117.94 L671.13,117.85 L672.09,117.79 L673.05,117.73 M88.30,157.64 L89.26,157.89 L90.21,157.90 L91.17,158.08 L92.13,158.34 L93.09,159.02 L94.05,159.78 L95.01,159.35 L95.96,159.01 L96.92,160.20 L97.88,161.41 L98.84,161.55 L99.80,161.63 L100.76,162.30 L101.71,162.99 L102.67,163.28 L103.63,163.52 L104.59,164.19 L105.55,164.75 L106.51,164.74 L107.46,164.60 L108.42,164.16 L109.38,163.65 L110.34,163.74 L111.30,163.83 L112.26,163.57 L113.21,163.27 L114.17,163.11 L115.13,162.94 L116.09,162.11 L117.05,161.30 L118.01,161.45 L118.96,161.57 L119.92,161.08 L120.88,160.61 L121.84,160.44 L122.80,160.36 L123.76,159.91 L124.71,159.53 L125.67,160.44 L126.63,161.39 L127.59,161.03 L128.55,160.67 L129.51,160.94 L130.46,161.23 L131.42,160.99 L132.38,160.75 L133.34,161.23 L134.30,161.68 L135.26,161.92 L136.21,162.15 L137.17,162.27 L138.13,162.38 L139.09,162.22 L140.05,162.04 L141.01,162.45 L141.96,162.85 L142.92,162.74 L143.88,162.62 L144.84,162.94 L145.80,163.24 L146.76,162.77 L147.71,162.28 L148.67,162.74 L149.63,163.19 L150.59,162.63 L151.55,162.07 L152.51,162.00 L153.46,161.93 L154.42,162.24 L155.38,162.54 L156.34,162.52 L157.30,162.50 M235.77,152.18 L236.73,152.63 L237.69,153.11 L238.64,153.59 L239.60,154.12 L240.56,154.80 L241.52,155.55 L242.48,155.68 L243.44,155.85 L244.39,156.70 L245.35,157.57 L246.31,158.68 L247.27,159.79 L248.23,160.92 L249.19,162.14 L250.14,162.94 L251.10,163.68 L252.06,164.59 L253.02,165.29 L253.98,166.05 L254.94,166.67 L255.89,166.46 L256.85,166.14 L257.81,166.14 L258.77,166.08 L259.73,165.81 L260.69,165.42 L261.64,165.25 L262.60,165.02 L263.56,164.45 L264.52,163.88 L265.48,163.20 L266.44,162.43 L267.39,162.03 L268.35,161.68 L269.31,161.15 L270.27,160.79 L271.23,160.48 L272.19,160.32 L273.14,160.75 L274.10,161.24 L275.06,161.77 L276.02,162.28 L276.98,161.77 L277.94,161.29 L278.89,161.54 L279.85,161.81 L280.81,162.31 L281.77,162.84 L282.73,163.17 L283.69,163.56 L284.64,164.09 L285.60,164.61 L286.56,164.93 L287.52,165.17 L288.48,165.45 L289.44,165.71 L290.39,166.09 L291.35,166.42 L292.31,166.51 L293.27,166.52 L294.23,165.63 L295.19,164.61 L296.14,164.88 L297.10,165.14 L298.06,164.74 L299.02,164.43 L299.98,164.46 L300.94,164.55 L301.89,164.46 L302.85,164.38 L303.81,164.49 L304.77,164.58 M382.53,151.72 L383.49,152.27 L384.45,153.00 L385.41,153.47 L386.37,153.90 L387.33,154.26 L388.28,154.75 L389.24,156.07 L390.20,157.55 L391.16,158.47 L392.12,159.40 L393.08,160.61 L394.03,161.68 L394.99,162.49 L395.95,163.26 L396.91,164.21 L397.87,165.07 L398.83,165.86 L399.78,166.49 L400.74,166.95 L401.70,167.24 L402.66,167.17 L403.62,167.00 L404.58,166.93 L405.53,166.83 L406.49,166.52 L407.45,166.10 L408.41,165.56 L409.37,165.00 L410.33,164.94 L411.28,164.94 L412.24,164.10 L413.20,163.26 L414.16,162.98 L415.12,162.74 L416.08,163.23 L417.03,163.80 L417.99,163.37 L418.95,163.01 L419.91,163.13 L420.87,163.29 L421.83,164.04 L422.78,164.83 L423.74,164.29 L424.70,163.81 L425.66,164.82 L426.62,165.84 L427.58,165.89 L428.53,165.92 L429.49,166.28 L430.45,166.65 L431.41,166.87 L432.37,167.08 L433.33,167.66 L434.28,168.21 L435.24,168.72 L436.20,169.25 L437.16,169.40 L438.12,169.50 L439.08,169.58 L440.03,169.55 L440.99,169.65 L441.95,169.61 L442.91,169.49 L443.87,169.33 L444.83,168.75 L445.78,168.26 L446.74,168.03 L447.70,167.85 L448.66,167.82 L449.62,167.81 L450.58,167.96 L451.53,168.10 M529.53,157.18 L530.49,157.46 L531.45,157.80 L532.41,158.18 L533.37,158.62 L534.33,159.04 L535.28,159.53 L536.24,160.25 L537.20,161.05 L538.16,161.59 L539.12,162.14 L540.08,162.72 L541.03,163.21 L541.99,163.53 L542.95,163.81 L543.91,164.29 L544.87,164.71 L545.83,165.14 L546.78,165.50 L547.74,166.19 L548.70,166.79 L549.66,166.20 L550.62,165.57 L551.58,165.56 L552.53,165.55 L553.49,165.72 L554.45,165.86 L555.41,165.70 L556.37,165.52 L557.33,165.33 L558.28,165.11 L559.24,164.74 L560.20,164.30 L561.16,164.30 L562.12,164.33 L563.08,163.62 L564.03,163.04 L564.99,163.57 L565.95,164.24 L566.91,164.58 L567.87,164.96 L568.83,164.99 L569.78,164.94 L570.74,164.93 L571.70,164.87 L572.66,164.95 L573.62,165.03 L574.58,165.35 L575.53,165.71 L576.49,165.42 L577.45,165.15 L578.41,166.15 L579.37,167.16 L580.33,166.95 L581.28,166.74 L582.24,166.93 L583.20,167.16 L584.16,167.87 L585.12,168.53 L586.08,168.66 L587.03,168.68 L587.99,168.47 L588.95,168.16 L589.91,168.49 L590.87,168.79 L591.83,168.05 L592.78,167.36 L593.74,167.40 L594.70,167.45 L595.66,167.15 L596.62,166.86 L597.58,167.54 L598.53,168.21 M59.23,207.53 L60.19,207.67 L61.14,207.76 L62.10,207.79 L63.06,207.77 L64.02,208.52 L64.98,209.30 L65.94,209.43 L66.89,209.59 L67.85,210.29 L68.81,210.99 L69.77,210.91 L70.73,210.80 L71.69,211.07 L72.64,211.33 L73.60,211.30 L74.56,211.25 L75.52,211.44 L76.48,211.60 L77.44,211.93 L78.39,212.22 L79.35,211.98 L80.31,211.72 L81.27,212.15 L82.23,212.59 L83.19,212.63 L84.14,212.68 L85.10,212.19 L86.06,211.68 L87.02,212.07 L87.98,212.40 L88.94,212.14 L89.89,211.81 L90.85,211.51 L91.81,211.20 L92.77,210.79 L93.73,210.44 L94.69,210.60 L95.64,210.79 L96.60,210.45 L97.56,210.13 L98.52,210.12 L99.48,210.12 L100.44,209.95 L101.39,209.77 L102.35,209.44 L103.31,209.12 L104.27,208.96 L105.23,208.85 L106.19,209.56 L107.14,210.34 L108.10,210.54 L109.06,210.75 L110.02,210.54 L110.98,210.28 L111.94,210.62 L112.89,210.96 L113.85,211.08 L114.81,211.18 L115.77,211.25 L116.73,211.27 L117.69,211.08 L118.64,210.84 L119.60,210.45 L120.56,210.05 L121.52,210.08 L122.48,210.14 L123.44,209.78 L124.39,209.43 L125.35,209.52 L126.31,209.62 L127.27,209.29 L128.23,208.95 M182.53,195.71 L183.49,195.99 L184.45,196.11 L185.41,196.41 L186.37,196.85 L187.33,197.32 L188.28,197.95 L189.24,198.27 L190.20,198.78 L191.16,199.36 L192.12,199.97 L193.08,201.22 L194.03,202.36 L194.99,203.13 L195.95,203.88 L196.91,204.72 L197.87,205.50 L198.83,205.83 L199.78,206.06 L200.74,206.63 L201.70,207.12 L202.66,207.34 L203.62,207.50 L204.58,207.09 L205.53,206.62 L206.49,207.37 L207.45,208.05 L208.41,207.39 L209.37,206.68 L210.33,206.26 L211.28,205.81 L212.24,205.61 L213.20,205.33 L214.16,205.24 L215.12,205.15 L216.08,205.30 L217.03,205.53 L217.99,204.13 L218.95,202.77 L219.91,202.90 L220.87,203.09 L221.83,203.44 L222.78,203.88 L223.74,203.59 L224.70,203.40 L225.66,203.84 L226.62,204.32 L227.58,204.52 L228.53,204.69 L229.49,205.05 L230.45,205.41 L231.41,205.76 L232.37,206.09 L233.33,206.05 L234.28,205.98 L235.24,206.17 L236.20,206.34 L237.16,206.40 L238.12,206.42 L239.08,206.88 L240.03,207.28 L240.99,207.74 L241.95,208.13 L242.91,207.70 L243.87,207.25 L244.83,206.80 L245.78,206.37 L246.74,206.56 L247.70,206.74 L248.66,206.46 L249.62,206.19 L250.58,205.85 L251.53,205.51 M309.53,191.72 L310.49,192.22 L311.45,192.63 L312.41,193.18 L313.37,193.86 L314.33,194.41 L315.28,195.13 L316.24,196.16 L317.20,197.40 L318.16,198.79 L319.12,200.22 L320.08,201.67 L321.03,202.98 L321.99,204.34 L322.95,205.65 L323.91,206.01 L324.87,206.29 L325.83,207.55 L326.78,208.70 L327.74,209.03 L328.70,209.26 L329.66,209.68 L330.62,210.01 L331.58,209.93 L332.53,209.77 L333.49,210.16 L334.45,210.45 L335.41,210.23 L336.37,209.95 L337.33,209.08 L338.28,208.17 L339.24,207.78 L340.20,207.30 L341.16,207.49 L342.12,207.67 L343.08,206.63 L344.03,205.68 L344.99,205.37 L345.95,205.07 L346.91,204.45 L347.87,203.91 L348.83,204.09 L349.78,204.40 L350.74,204.58 L351.70,204.92 L352.66,205.22 L353.62,205.58 L354.58,206.45 L355.53,207.28 L356.49,207.34 L357.45,207.41 L358.41,208.04 L359.37,208.67 L360.33,208.86 L361.28,209.02 L362.24,209.38 L363.20,209.76 L364.16,209.98 L365.12,210.15 L366.08,210.27 L367.03,210.28 L367.99,210.63 L368.95,210.82 L369.91,210.43 L370.87,210.01 L371.83,209.71 L372.78,209.52 L373.74,209.02 L374.70,208.59 L375.66,208.66 L376.62,208.76 L377.58,208.93 L378.53,209.07 M435.30,194.94 L436.26,195.31 L437.21,195.86 L438.17,196.36 L439.13,196.95 L440.09,196.83 L441.05,196.88 L442.01,197.97 L442.96,199.23 L443.92,199.92 L444.88,200.65 L445.84,202.10 L446.80,203.47 L447.76,204.24 L448.71,205.03 L449.67,206.30 L450.63,207.49 L451.59,208.09 L452.55,208.53 L453.51,209.41 L454.46,210.17 L455.42,210.45 L456.38,210.64 L457.34,210.86 L458.30,211.00 L459.26,210.52 L460.21,209.92 L461.17,209.58 L462.13,209.20 L463.09,208.86 L464.05,208.58 L465.01,208.24 L465.96,207.90 L466.92,207.73 L467.88,207.58 L468.84,207.14 L469.80,206.73 L470.76,206.69 L471.71,206.64 L472.67,206.68 L473.63,206.78 L474.59,206.76 L475.55,206.85 L476.51,206.93 L477.46,207.14 L478.42,207.12 L479.38,207.14 L480.34,208.29 L481.30,209.38 L482.26,209.85 L483.21,210.34 L484.17,210.54 L485.13,210.72 L486.09,210.80 L487.05,210.83 L488.01,211.34 L488.96,211.82 L489.92,211.88 L490.88,211.88 L491.84,211.67 L492.80,211.38 L493.76,211.92 L494.71,212.36 L495.67,212.08 L496.63,211.78 L497.59,211.48 L498.55,211.24 L499.51,211.16 L500.46,211.12 L501.42,210.90 L502.38,210.70 L503.34,210.36 L504.30,210.02 M558.46,207.23 L559.42,207.43 L560.38,207.63 L561.34,207.92 L562.30,208.28 L563.25,208.00 L564.21,207.77 L565.17,208.61 L566.13,209.50 L567.09,209.46 L568.05,209.45 L569.00,210.25 L569.96,211.07 L570.92,211.31 L571.88,211.61 L572.84,212.48 L573.80,213.33 L574.75,213.66 L575.71,213.91 L576.67,214.14 L577.63,214.34 L578.59,214.85 L579.55,215.31 L580.50,215.14 L581.46,214.91 L582.42,215.26 L583.38,215.56 L584.34,215.06 L585.30,214.53 L586.25,214.68 L587.21,214.81 L588.17,215.09 L589.13,215.30 L590.09,214.80 L591.05,214.29 L592.00,213.59 L592.96,212.92 L593.92,213.19 L594.88,213.43 L595.84,212.80 L596.80,212.21 L597.75,212.21 L598.71,212.31 L599.67,212.20 L600.63,212.20 L601.59,212.66 L602.55,213.14 L603.50,213.15 L604.46,213.12 L605.42,213.75 L606.38,214.38 L607.34,214.21 L608.30,214.02 L609.25,214.11 L610.21,214.15 L611.17,214.27 L612.13,214.35 L613.09,214.15 L614.05,213.91 L615.00,214.33 L615.96,214.73 L616.92,214.74 L617.88,214.72 L618.84,214.64 L619.80,214.55 L620.75,214.21 L621.71,213.88 L622.67,213.61 L623.63,213.34 L624.59,213.54 L625.55,213.74 L626.50,213.64 L627.46,213.54 M213.66,265.70 L214.62,266.07 L215.58,266.52 L216.54,266.88 L217.50,267.23 L218.46,267.21 L219.41,267.23 L220.37,267.98 L221.33,268.77 L222.29,269.02 L223.25,269.30 L224.21,270.17 L225.16,271.06 L226.12,271.71 L227.08,272.42 L228.04,272.56 L229.00,272.67 L229.96,273.73 L230.91,274.69 L231.87,274.75 L232.83,274.73 L233.79,275.09 L234.75,275.41 L235.71,275.59 L236.66,275.74 L237.62,276.06 L238.58,276.34 L239.54,276.38 L240.50,276.39 L241.46,276.17 L242.41,275.93 L243.37,275.37 L244.33,274.78 L245.29,275.19 L246.25,275.57 L247.21,275.49 L248.16,275.39 L249.12,274.24 L250.08,273.01 L251.04,273.05 L252.00,273.12 L252.96,272.81 L253.91,272.63 L254.87,272.77 L255.83,273.02 L256.79,273.04 L257.75,273.12 L258.71,273.62 L259.66,274.11 L260.62,274.01 L261.58,273.96 L262.54,274.13 L263.50,274.30 L264.46,274.33 L265.41,274.31 L266.37,274.52 L267.33,274.72 L268.29,275.24 L269.25,275.73 L270.21,276.01 L271.16,276.23 L272.12,275.81 L273.08,275.31 L274.04,275.51 L275.00,275.70 L275.96,275.32 L276.91,275.00 L277.87,275.28 L278.83,275.59 L279.79,275.76 L280.75,275.93 L281.71,275.82 L282.66,275.70 M309.53,273.76 L310.49,273.90 L311.45,273.92 L312.41,274.06 L313.37,274.29 L314.33,274.75 L315.28,275.33 L316.24,275.87 L317.20,276.53 L318.16,277.26 L319.12,278.02 L320.08,278.13 L321.03,278.21 L321.99,279.07 L322.95,279.95 L323.91,280.34 L324.87,280.72 L325.83,281.38 L326.78,282.00 L327.74,282.46 L328.70,282.91 L329.66,283.61 L330.62,284.27 L331.58,284.62 L332.53,284.88 L333.49,284.92 L334.45,284.87 L335.41,285.07 L336.37,285.21 L337.33,285.26 L338.28,285.31 L339.24,284.97 L340.20,284.59 L341.16,284.34 L342.12,284.06 L343.08,284.21 L344.03,284.35 L344.99,283.85 L345.95,283.28 L346.91,283.03 L347.87,282.82 L348.83,282.33 L349.78,282.00 L350.74,282.53 L351.70,283.24 L352.66,283.74 L353.62,284.29 L354.58,284.34 L355.53,284.30 L356.49,284.61 L357.45,284.90 L358.41,285.33 L359.37,285.72 L360.33,286.16 L361.28,286.56 L362.24,286.73 L363.20,286.86 L364.16,287.01 L365.12,287.12 L366.08,286.67 L367.03,286.19 L367.99,285.90 L368.95,285.56 L369.91,285.66 L370.87,285.76 L371.83,285.87 L372.78,286.02 L373.74,286.10 L374.70,286.22 L375.66,285.88 L376.62,285.55 L377.58,285.92 L378.53,286.27 M404.53,265.70 L405.49,265.81 L406.45,265.90 L407.41,266.06 L408.37,266.32 L409.33,266.83 L410.28,267.45 L411.24,268.02 L412.20,268.69 L413.16,269.16 L414.12,269.66 L415.08,270.65 L416.03,271.61 L416.99,272.02 L417.95,272.48 L418.91,273.55 L419.87,274.57 L420.83,274.93 L421.78,275.16 L422.74,276.33 L423.70,277.41 L424.66,277.08 L425.62,276.67 L426.58,276.90 L427.53,277.08 L428.49,277.66 L429.45,278.16 L430.41,277.86 L431.37,277.52 L432.33,276.88 L433.28,276.24 L434.24,276.50 L435.20,276.75 L436.16,276.94 L437.12,277.14 L438.08,276.37 L439.03,275.62 L439.99,275.12 L440.95,274.57 L441.91,274.39 L442.87,274.25 L443.83,274.65 L444.78,275.20 L445.74,274.89 L446.70,274.73 L447.66,275.10 L448.62,275.51 L449.58,276.72 L450.53,277.85 L451.49,277.22 L452.45,276.57 L453.41,277.04 L454.37,277.48 L455.33,277.50 L456.28,277.48 L457.24,277.83 L458.20,278.15 L459.16,278.26 L460.12,278.34 L461.08,278.56 L462.03,278.76 L462.99,278.27 L463.95,277.74 L464.91,278.11 L465.87,278.47 L466.83,278.05 L467.78,277.65 L468.74,278.03 L469.70,278.41 L470.66,277.89 L471.62,277.36 L472.58,277.42 L473.53,277.48" fill="none" stroke="#262626" stroke-width="1.0" stroke-linejoin="round"/>
<path d="M59.53,18.66 L60.49,18.83 L61.45,19.04 L62.41,19.22 L63.37,19.41 L64.33,18.93 L65.28,18.50 L66.24,19.13 L67.20,19.82 L68.16,19.59 L69.12,19.36 L70.08,20.02 L71.03,20.62 L71.99,21.27 L72.95,21.94 L73.91,21.66 L74.87,21.33 L75.83,21.35 L76.78,21.25 L77.74,21.17 L78.70,20.96 L79.66,20.52 L80.62,20.03 L81.58,19.57 L82.53,19.13 L83.49,18.52 L84.45,17.88 L85.41,17.83 L86.37,17.78 L87.33,17.32 L88.28,16.92 L89.24,16.37 L90.20,15.87 L91.16,15.77 L92.12,15.70 L93.08,15.63 L94.03,15.59 L94.99,15.60 L95.95,15.64 L96.91,15.49 L97.87,15.37 L98.83,15.48 L99.78,15.61 L100.74,15.46 L101.70,15.33 L102.66,15.25 L103.62,15.21 L104.58,15.50 L105.53,15.84 L106.49,16.45 L107.45,17.13 L108.41,17.49 L109.37,17.85 L110.33,18.01 L111.28,18.12 L112.24,18.21 L113.20,18.29 L114.16,18.70 L115.12,19.07 L116.08,19.50 L117.03,19.87 L117.99,19.75 L118.95,19.51 L119.91,18.84 L120.87,18.18 L121.83,18.19 L122.78,18.34 L123.74,18.17 L124.70,18.12 L125.66,18.53 L126.62,18.97 L127.58,19.64 L128.53,20.28 M182.53,27.64 L183.49,28.09 L184.45,28.49 L185.41,28.85 L186.37,29.21 L187.33,30.04 L188.28,30.98 L189.24,31.78 L190.20,32.75 L191.16,33.68 L192.12,34.59 L193.08,34.76 L194.03,34.73 L194.99,36.13 L195.95,37.47 L196.91,37.60 L197.87,37.58 L198.83,37.37 L199.78,36.92 L200.74,36.50 L201.70,35.78 L202.66,35.03 L203.62,34.21 L204.58,33.17 L205.53,32.30 L206.49,31.48 L207.45,30.71 L208.41,29.89 L209.37,29.11 L210.33,28.52 L211.28,27.96 L212.24,27.64 L213.20,27.36 L214.16,26.72 L215.12,26.15 L216.08,25.66 L217.03,25.25 L217.99,25.17 L218.95,25.17 L219.91,25.29 L220.87,25.45 L221.83,25.62 L222.78,25.80 L223.74,26.29 L224.70,26.78 L225.66,26.04 L226.62,25.35 L227.58,25.94 L228.53,26.63 L229.49,26.89 L230.45,27.25 L231.41,27.90 L232.37,28.56 L233.33,29.35 L234.28,30.08 L235.24,30.51 L236.20,30.94 L237.16,31.06 L238.12,31.13 L239.08,31.37 L240.03,31.52 L240.99,31.45 L241.95,31.27 L242.91,31.49 L243.87,31.71 L244.83,31.97 L245.78,32.33 L246.74,32.16 L247.70,32.05 L248.66,32.54 L249.62,33.05 L250.58,33.34 L251.53,33.62 M309.53,29.58 L310.49,30.09 L311.45,30.22 L312.41,31.02 L313.37,32.19 L314.33,32.44 L315.28,32.80 L316.24,33.85 L317.20,35.07 L318.16,36.30 L319.12,37.51 L320.08,38.44 L321.03,39.18 L321.99,40.11 L322.95,40.99 L323.91,41.26 L324.87,41.36 L325.83,41.44 L326.78,41.21 L327.74,40.58 L328.70,39.56 L329.66,38.21 L330.62,36.77 L331.58,35.74 L332.53,34.93 L333.49,34.52 L334.45,34.21 L335.41,33.54 L336.37,32.92 L337.33,32.48 L338.28,32.04 L339.24,31.76 L340.20,31.46 L341.16,30.44 L342.12,29.46 L343.08,28.97 L344.03,28.58 L344.99,27.95 L345.95,27.41 L346.91,27.59 L347.87,27.84 L348.83,28.43 L349.78,29.04 L350.74,28.73 L351.70,28.44 L352.66,28.42 L353.62,28.45 L354.58,28.81 L355.53,29.26 L356.49,29.26 L357.45,29.39 L358.41,30.34 L359.37,31.31 L360.33,31.88 L361.28,32.36 L362.24,32.68 L363.20,32.99 L364.16,34.09 L365.12,35.13 L366.08,35.46 L367.03,35.67 L367.99,35.41 L368.95,34.99 L369.91,34.85 L370.87,34.68 L371.83,34.14 L372.78,33.71 L373.74,34.05 L374.70,34.45 L375.66,34.64 L376.62,34.86 L377.58,35.18 L378.53,35.47 M435.30,26.87 L436.26,27.30 L437.21,27.98 L438.17,28.49 L439.13,28.97 L440.09,29.40 L441.05,29.81 L442.01,30.44 L442.96,31.05 L443.92,31.39 L444.88,31.72 L445.84,32.55 L446.80,33.38 L447.76,34.09 L448.71,34.93 L449.67,35.64 L450.63,36.23 L451.59,36.35 L452.55,36.12 L453.51,36.19 L454.46,35.87 L455.42,34.63 L456.38,33.31 L457.34,31.84 L458.30,30.58 L459.26,30.12 L460.21,29.75 L461.17,28.93 L462.13,28.15 L463.09,28.03 L464.05,27.89 L465.01,27.54 L465.96,27.16 L466.92,26.72 L467.88,26.31 L468.84,25.45 L469.80,24.70 L470.76,24.11 L471.71,23.60 L472.67,23.82 L473.63,24.10 L474.59,24.40 L475.55,24.73 L476.51,24.45 L477.46,24.19 L478.42,24.49 L479.38,24.86 L480.34,24.99 L481.30,25.26 L482.26,26.01 L483.21,26.98 L484.17,27.67 L485.13,28.36 L486.09,28.87 L487.05,29.18 L488.01,29.78 L488.96,30.24 L489.92,30.81 L490.88,31.32 L491.84,30.65 L492.80,30.01 L493.76,29.72 L494.71,29.38 L495.67,30.20 L496.63,31.04 L497.59,30.68 L498.55,30.42 L499.51,30.44 L500.46,30.55 L501.42,30.97 L502.38,31.41 L503.34,31.64 L504.30,31.84 M558.46,18.05 L559.42,18.22 L560.38,18.08 L561.34,18.43 L562.30,18.99 L563.25,19.10 L564.21,19.18 L565.17,19.36 L566.13,19.51 L567.09,19.24 L568.05,18.97 L569.00,18.82 L569.96,18.69 L570.92,19.74 L571.88,20.85 L572.84,20.85 L573.80,20.79 L574.75,20.64 L575.71,20.33 L576.67,19.85 L577.63,19.21 L578.59,18.79 L579.55,18.34 L580.50,17.42 L581.46,16.57 L582.42,16.61 L583.38,16.65 L584.34,16.04 L585.30,15.43 L586.25,14.95 L587.21,14.46 L588.17,13.97 L589.13,13.44 L590.09,13.06 L591.05,12.73 L592.00,12.45 L592.96,12.30 L593.92,12.13 L594.88,12.08 L595.84,12.55 L596.80,13.07 L597.75,13.10 L598.71,13.10 L599.67,13.16 L600.63,13.21 L601.59,13.17 L602.55,13.12 L603.50,13.72 L604.46,14.31 L605.42,14.46 L606.38,14.61 L607.34,14.60 L608.30,14.59 L609.25,14.14 L610.21,13.70 L611.17,14.17 L612.13,14.66 L613.09,15.11 L614.05,15.54 L615.00,15.44 L615.96,15.31 L616.92,15.62 L617.88,15.87 L618.84,15.44 L619.80,15.01 L620.75,15.30 L621.71,15.65 L622.67,15.76 L623.63,15.93 L624.59,15.53 L625.55,15.16 L626.50,15.91 L627.46,16.64 M88.60,67.18 L89.56,67.48 L90.52,67.61 L91.48,67.67 L92.44,67.63 L93.40,68.03 L94.35,68.46 L95.31,68.65 L96.27,68.89 L97.23,69.53 L98.19,70.18 L99.15,70.84 L100.10,71.47 L101.06,71.07 L102.02,70.70 L102.98,71.28 L103.94,71.80 L104.90,72.42 L105.85,72.88 L106.81,72.48 L107.77,71.92 L108.73,71.74 L109.69,71.50 L110.65,70.55 L111.60,69.64 L112.56,69.55 L113.52,69.45 L114.48,68.49 L115.44,67.54 L116.40,67.55 L117.35,67.56 L118.31,67.52 L119.27,67.47 L120.23,67.16 L121.19,66.87 L122.15,66.60 L123.10,66.38 L124.06,65.72 L125.02,65.07 L125.98,64.65 L126.94,64.28 L127.90,64.29 L128.85,64.41 L129.81,64.20 L130.77,64.12 L131.73,65.21 L132.69,66.33 L133.65,66.66 L134.60,66.94 L135.56,66.75 L136.52,66.54 L137.48,67.41 L138.44,68.27 L139.40,67.80 L140.35,67.34 L141.31,68.03 L142.27,68.73 L143.23,68.70 L144.19,68.66 L145.15,68.69 L146.10,68.69 L147.06,69.34 L148.02,69.94 L148.98,69.68 L149.94,69.43 L150.90,70.08 L151.85,70.78 L152.81,70.52 L153.77,70.29 L154.73,70.78 L155.69,71.28 L156.65,71.42 L157.60,71.55 M235.77,70.18 L236.73,70.59 L237.69,70.65 L238.64,71.11 L239.60,71.78 L240.56,72.69 L241.52,73.72 L242.48,74.32 L243.44,75.11 L244.39,76.44 L245.35,77.75 L246.31,78.78 L247.27,79.58 L248.23,80.18 L249.19,80.64 L250.14,81.07 L251.10,81.36 L252.06,81.34 L253.02,81.18 L253.98,80.71 L254.94,80.04 L255.89,79.28 L256.85,78.46 L257.81,78.05 L258.77,77.70 L259.73,77.11 L260.69,76.51 L261.64,76.24 L262.60,75.97 L263.56,75.65 L264.52,75.32 L265.48,74.71 L266.44,74.10 L267.39,73.26 L268.35,72.42 L269.31,72.11 L270.27,71.80 L271.23,71.22 L272.19,70.61 L273.14,69.93 L274.10,69.29 L275.06,69.21 L276.02,69.23 L276.98,68.76 L277.94,68.30 L278.89,68.01 L279.85,67.82 L280.81,67.48 L281.77,67.34 L282.73,67.48 L283.69,67.86 L284.64,69.14 L285.60,70.47 L286.56,71.78 L287.52,72.99 L288.48,73.41 L289.44,73.85 L290.39,74.62 L291.35,75.32 L292.31,75.83 L293.27,76.18 L294.23,76.56 L295.19,76.77 L296.14,76.60 L297.10,76.38 L298.06,76.68 L299.02,77.07 L299.98,76.74 L300.94,76.44 L301.89,76.55 L302.85,76.66 L303.81,77.19 L304.77,77.70 M309.53,70.18 L310.49,70.87 L311.45,71.30 L312.41,72.01 L313.37,72.90 L314.33,73.45 L315.28,74.17 L316.24,75.10 L317.20,76.31 L318.16,78.11 L319.12,79.85 L320.08,81.05 L321.03,81.85 L321.99,81.91 L322.95,81.66 L323.91,81.62 L324.87,81.42 L325.83,80.84 L326.78,80.28 L327.74,80.13 L328.70,79.89 L329.66,79.42 L330.62,78.91 L331.58,78.13 L332.53,77.39 L333.49,76.68 L334.45,75.97 L335.41,76.03 L336.37,76.09 L337.33,75.72 L338.28,75.34 L339.24,74.33 L340.20,73.31 L341.16,73.00 L342.12,72.70 L343.08,72.04 L344.03,71.41 L344.99,70.52 L345.95,69.65 L346.91,70.30 L347.87,70.99 L348.83,70.24 L349.78,69.55 L350.74,68.89 L351.70,68.22 L352.66,68.57 L353.62,69.02 L354.58,68.90 L355.53,68.98 L356.49,69.59 L357.45,70.45 L358.41,71.14 L359.37,71.90 L360.33,72.74 L361.28,73.48 L362.24,74.41 L363.20,75.36 L364.16,75.70 L365.12,75.98 L366.08,76.65 L367.03,77.17 L367.99,77.09 L368.95,76.86 L369.91,76.80 L370.87,76.69 L371.83,76.90 L372.78,77.16 L373.74,77.16 L374.70,77.17 L375.66,76.76 L376.62,76.35 L377.58,76.79 L378.53,77.23 M382.53,69.41 L383.49,69.78 L384.45,69.99 L385.41,70.47 L386.37,71.15 L387.33,72.45 L388.28,73.91 L389.24,74.78 L390.20,75.93 L391.16,77.75 L392.12,79.52 L393.08,80.24 L394.03,80.57 L394.99,81.34 L395.95,81.80 L396.91,81.76 L397.87,81.57 L398.83,81.06 L399.78,80.57 L400.74,80.03 L401.70,79.40 L402.66,79.04 L403.62,78.65 L404.58,77.74 L405.53,76.86 L406.49,76.85 L407.45,76.84 L408.41,75.67 L409.37,74.50 L410.33,74.08 L411.28,73.66 L412.24,73.32 L413.20,72.97 L414.16,72.26 L415.12,71.56 L416.08,71.63 L417.03,71.73 L417.99,71.05 L418.95,70.37 L419.91,69.64 L420.87,68.94 L421.83,69.15 L422.78,69.40 L423.74,69.05 L424.70,68.69 L425.66,68.06 L426.62,67.52 L427.58,67.95 L428.53,68.59 L429.49,68.98 L430.45,69.61 L431.41,70.09 L432.37,70.63 L433.33,71.50 L434.28,72.22 L435.24,73.04 L436.20,73.83 L437.16,74.57 L438.12,75.26 L439.08,75.79 L440.03,76.24 L440.99,76.49 L441.95,76.64 L442.91,76.29 L443.87,75.91 L444.83,75.69 L445.78,75.49 L446.74,75.64 L447.70,75.79 L448.66,76.64 L449.62,77.49 L450.58,77.51 L451.53,77.54 M529.53,66.41 L530.49,66.93 L531.45,67.76 L532.41,67.78 L533.37,67.36 L534.33,67.94 L535.28,68.53 L536.24,68.99 L537.20,69.49 L538.16,69.97 L539.12,70.44 L540.08,71.16 L541.03,71.82 L541.99,72.32 L542.95,72.80 L543.91,72.56 L544.87,72.24 L545.83,72.39 L546.78,72.41 L547.74,72.00 L548.70,71.45 L549.66,71.38 L550.62,71.26 L551.58,70.34 L552.53,69.45 L553.49,69.11 L554.45,68.74 L555.41,68.00 L556.37,67.27 L557.33,67.07 L558.28,66.92 L559.24,66.27 L560.20,65.66 L561.16,65.18 L562.12,64.72 L563.08,65.08 L564.03,65.44 L564.99,64.32 L565.95,63.20 L566.91,63.45 L567.87,63.73 L568.83,63.44 L569.78,63.20 L570.74,62.96 L571.70,62.74 L572.66,63.35 L573.62,64.02 L574.58,63.71 L575.53,63.51 L576.49,63.69 L577.45,64.03 L578.41,64.52 L579.37,65.02 L580.33,65.85 L581.28,66.57 L582.24,66.81 L583.20,66.99 L584.16,67.14 L585.12,67.26 L586.08,67.30 L587.03,67.34 L587.99,67.93 L588.95,68.48 L589.91,68.21 L590.87,67.94 L591.83,67.88 L592.78,67.86 L593.74,67.72 L594.70,67.60 L595.66,67.84 L596.62,68.09 L597.58,68.57 L598.53,69.04 M0.71,112.94 L1.67,113.08 L2.63,113.32 L3.58,113.58 L4.54,113.89 L5.50,113.97 L6.46,114.04 L7.42,114.46 L8.38,114.89 L9.33,115.42 L10.29,115.94 L11.25,115.36 L12.21,114.75 L13.17,114.94 L14.13,115.12 L15.08,115.32 L16.04,115.48 L17.00,115.51 L17.96,115.45 L18.92,115.32 L19.88,115.11 L20.83,115.06 L21.79,114.98 L22.75,114.96 L23.71,114.95 L24.67,114.81 L25.63,114.66 L26.58,113.76 L27.54,112.85 L28.50,112.05 L29.46,111.26 L30.42,111.69 L31.38,112.10 L32.33,111.34 L33.29,110.59 L34.25,110.12 L35.21,109.70 L36.17,109.73 L37.13,109.76 L38.08,109.20 L39.04,108.71 L40.00,108.56 L40.96,108.56 L41.92,108.61 L42.88,108.81 L43.83,109.66 L44.79,110.56 L45.75,111.05 L46.71,111.49 L47.67,111.55 L48.63,111.64 L49.58,112.18 L50.54,112.70 L51.50,113.52 L52.46,114.27 L53.42,114.11 L54.38,113.91 L55.33,114.17 L56.29,114.39 L57.25,114.43 L58.21,114.43 L59.17,114.57 L60.13,114.63 L61.08,114.79 L62.04,114.94 L63.00,114.69 L63.96,114.50 L64.92,114.78 L65.88,115.10 L66.83,115.15 L67.79,115.22 L68.75,114.78 L69.71,114.33 M154.53,111.72 L155.49,112.00 L156.45,112.40 L157.41,113.11 L158.37,114.12 L159.33,114.02 L160.28,114.04 L161.24,115.00 L162.20,116.11 L163.16,117.07 L164.12,118.02 L165.08,119.11 L166.03,120.04 L166.99,120.80 L167.95,121.47 L168.91,122.02 L169.87,122.48 L170.83,122.32 L171.78,122.05 L172.74,122.15 L173.70,122.10 L174.66,121.96 L175.62,121.75 L176.58,121.44 L177.53,121.11 L178.49,120.37 L179.45,119.56 L180.41,119.40 L181.37,119.22 L182.33,118.04 L183.28,116.89 L184.24,116.77 L185.20,116.67 L186.16,115.80 L187.12,114.93 L188.08,114.61 L189.03,114.27 L189.99,113.56 L190.95,112.76 L191.91,112.59 L192.87,112.47 L193.83,111.85 L194.78,111.40 L195.74,110.92 L196.70,110.52 L197.66,110.29 L198.62,110.18 L199.58,109.89 L200.53,109.77 L201.49,110.45 L202.45,111.39 L203.41,112.84 L204.37,114.33 L205.33,115.43 L206.28,116.33 L207.24,116.87 L208.20,117.31 L209.16,117.44 L210.12,117.49 L211.08,117.75 L212.03,117.95 L212.99,118.36 L213.95,118.65 L214.91,118.98 L215.87,119.29 L216.83,118.91 L217.78,118.63 L218.74,118.62 L219.70,118.68 L220.66,118.93 L221.62,119.21 L222.58,119.63 L223.53,120.03 M309.53,110.65 L310.49,111.27 L311.45,111.90 L312.41,112.45 L313.37,112.99 L314.33,113.46 L315.28,114.05 L316.24,115.41 L317.20,116.94 L318.16,118.30 L319.12,119.65 L320.08,120.88 L321.03,121.91 L321.99,121.94 L322.95,121.89 L323.91,122.43 L324.87,122.85 L325.83,123.47 L326.78,123.93 L327.74,124.24 L328.70,124.35 L329.66,124.05 L330.62,123.66 L331.58,123.05 L332.53,122.45 L333.49,121.75 L334.45,120.98 L335.41,120.37 L336.37,119.74 L337.33,118.95 L338.28,118.19 L339.24,117.45 L340.20,116.69 L341.16,115.97 L342.12,115.25 L343.08,115.56 L344.03,115.90 L344.99,114.54 L345.95,113.17 L346.91,112.78 L347.87,112.43 L348.83,111.99 L349.78,111.66 L350.74,111.48 L351.70,111.34 L352.66,110.98 L353.62,110.77 L354.58,111.18 L355.53,111.83 L356.49,112.87 L357.45,114.24 L358.41,114.97 L359.37,115.75 L360.33,117.02 L361.28,118.04 L362.24,118.72 L363.20,119.30 L364.16,120.00 L365.12,120.60 L366.08,120.76 L367.03,120.81 L367.99,121.22 L368.95,121.45 L369.91,121.30 L370.87,121.12 L371.83,121.05 L372.78,121.14 L373.74,121.28 L374.70,121.51 L375.66,121.42 L376.62,121.36 L377.58,121.80 L378.53,122.21 M463.30,111.41 L464.26,111.86 L465.21,112.26 L466.17,112.48 L467.13,112.60 L468.09,113.82 L469.05,115.10 L470.01,115.78 L470.96,116.54 L471.92,116.99 L472.88,117.44 L473.84,118.37 L474.80,119.23 L475.76,119.38 L476.71,119.55 L477.67,120.61 L478.63,121.58 L479.59,122.04 L480.55,122.29 L481.51,121.96 L482.46,121.41 L483.42,121.00 L484.38,120.51 L485.34,120.08 L486.30,119.74 L487.26,119.21 L488.21,118.67 L489.17,118.08 L490.13,117.49 L491.09,117.66 L492.05,117.86 L493.01,117.63 L493.96,117.46 L494.92,117.23 L495.88,116.97 L496.84,116.71 L497.80,116.32 L498.76,115.75 L499.71,114.99 L500.67,113.77 L501.63,112.57 L502.59,111.22 L503.55,110.09 L504.51,110.45 L505.46,110.94 L506.42,110.77 L507.38,110.71 L508.34,110.76 L509.30,110.90 L510.26,111.69 L511.21,112.65 L512.17,113.02 L513.13,113.43 L514.09,114.11 L515.05,114.71 L516.01,116.08 L516.96,117.46 L517.92,117.40 L518.88,117.30 L519.84,117.87 L520.80,118.37 L521.76,118.70 L522.71,118.92 L523.67,118.99 L524.63,119.04 L525.59,118.98 L526.55,119.01 L527.51,119.44 L528.46,119.94 L529.42,120.20 L530.38,120.49 L531.34,120.83 L532.30,121.15 M604.05,112.94 L605.01,113.16 L605.97,113.31 L606.93,113.49 L607.88,113.68 L608.84,113.59 L609.80,113.54 L610.76,113.74 L611.72,113.98 L612.68,114.67 L613.63,115.36 L614.59,115.07 L615.55,114.72 L616.51,115.02 L617.47,115.32 L618.43,115.54 L619.38,115.70 L620.34,115.79 L621.30,115.78 L622.26,115.35 L623.22,114.79 L624.18,114.39 L625.13,113.95 L626.09,113.40 L627.05,112.90 L628.01,112.52 L628.97,112.15 L629.93,111.85 L630.88,111.57 L631.84,112.06 L632.80,112.59 L633.76,111.33 L634.72,110.11 L635.68,110.72 L636.63,111.34 L637.59,110.34 L638.55,109.33 L639.51,109.42 L640.47,109.48 L641.43,109.16 L642.38,108.88 L643.34,108.86 L644.30,108.94 L645.26,108.75 L646.22,108.64 L647.18,108.62 L648.13,108.65 L649.09,108.99 L650.05,109.33 L651.01,109.64 L651.97,109.99 L652.93,110.06 L653.88,110.13 L654.84,110.77 L655.80,111.37 L656.76,111.70 L657.72,112.02 L658.68,111.93 L659.63,111.84 L660.59,112.11 L661.55,112.36 L662.51,112.99 L663.47,113.58 L664.43,113.29 L665.38,113.01 L666.34,113.19 L667.30,113.42 L668.26,113.64 L669.22,113.90 L670.18,114.15 L671.13,114.42 L672.09,114.95 L673.05,115.47 M88.30,157.64 L89.26,157.74 L90.21,157.84 L91.17,157.82 L92.13,157.76 L93.09,158.44 L94.05,159.21 L95.01,159.02 L95.96,158.95 L96.92,159.71 L97.88,160.50 L98.84,161.14 L99.80,161.71 L100.76,162.61 L101.71,163.53 L102.67,163.60 L103.63,163.60 L104.59,164.46 L105.55,165.18 L106.51,164.67 L107.46,164.03 L108.42,163.84 L109.38,163.58 L110.34,163.75 L111.30,163.91 L112.26,163.59 L113.21,163.20 L114.17,162.59 L115.13,161.97 L116.09,161.92 L117.05,161.91 L118.01,161.20 L118.96,160.56 L119.92,160.31 L120.88,160.04 L121.84,159.78 L122.80,159.39 L123.76,159.08 L124.71,158.61 L125.67,157.37 L126.63,156.16 L127.59,155.84 L128.55,155.73 L129.51,155.21 L130.46,154.79 L131.42,154.53 L132.38,154.38 L133.34,154.39 L134.30,154.53 L135.26,154.99 L136.21,155.64 L137.17,156.15 L138.13,156.72 L139.09,156.83 L140.05,156.89 L141.01,158.13 L141.96,159.43 L142.92,160.08 L143.88,160.69 L144.84,161.04 L145.80,161.24 L146.76,161.35 L147.71,161.31 L148.67,161.78 L149.63,162.22 L150.59,161.94 L151.55,161.74 L152.51,162.13 L153.46,162.54 L154.42,162.54 L155.38,162.55 L156.34,163.00 L157.30,163.45 M235.77,152.18 L236.73,152.62 L237.69,153.08 L238.64,153.68 L239.60,154.41 L240.56,154.79 L241.52,155.26 L242.48,156.00 L243.44,156.85 L244.39,158.09 L245.35,159.34 L246.31,160.19 L247.27,160.98 L248.23,161.45 L249.19,161.94 L250.14,162.83 L251.10,163.64 L252.06,164.46 L253.02,165.11 L253.98,165.59 L254.94,165.96 L255.89,166.17 L256.85,166.28 L257.81,165.55 L258.77,164.73 L259.73,165.05 L260.69,165.20 L261.64,164.28 L262.60,163.33 L263.56,162.73 L264.52,162.22 L265.48,161.96 L266.44,161.79 L267.39,161.40 L268.35,160.96 L269.31,160.53 L270.27,159.92 L271.23,159.23 L272.19,158.32 L273.14,157.16 L274.10,156.02 L275.06,154.48 L276.02,153.21 L276.98,152.60 L277.94,152.12 L278.89,152.02 L279.85,152.08 L280.81,152.48 L281.77,153.06 L282.73,153.50 L283.69,154.22 L284.64,155.23 L285.60,156.31 L286.56,157.27 L287.52,158.08 L288.48,158.75 L289.44,159.39 L290.39,160.38 L291.35,161.31 L292.31,161.75 L293.27,162.10 L294.23,162.58 L295.19,162.96 L296.14,163.27 L297.10,163.53 L298.06,163.92 L299.02,164.31 L299.98,164.63 L300.94,164.91 L301.89,164.43 L302.85,163.93 L303.81,164.46 L304.77,165.00 M382.53,151.72 L383.49,152.30 L384.45,152.61 L385.41,153.30 L386.37,154.24 L387.33,154.61 L388.28,155.15 L389.24,156.44 L390.20,157.95 L391.16,158.95 L392.12,159.95 L393.08,161.47 L394.03,162.79 L394.99,163.52 L395.95,164.16 L396.91,164.92 L397.87,165.56 L398.83,166.19 L399.78,166.69 L400.74,166.60 L401.70,166.35 L402.66,166.93 L403.62,167.42 L404.58,167.07 L405.53,166.70 L406.49,166.15 L407.45,165.53 L408.41,164.81 L409.37,164.05 L410.33,163.33 L411.28,162.62 L412.24,161.78 L413.20,160.92 L414.16,160.86 L415.12,160.78 L416.08,159.67 L417.03,158.53 L417.99,158.01 L418.95,157.39 L419.91,156.38 L420.87,155.42 L421.83,154.84 L422.78,154.47 L423.74,154.51 L424.70,154.65 L425.66,154.16 L426.62,153.81 L427.58,154.00 L428.53,154.38 L429.49,155.33 L430.45,156.58 L431.41,157.43 L432.37,158.31 L433.33,159.12 L434.28,159.72 L435.24,160.69 L436.20,161.56 L437.16,162.19 L438.12,162.76 L439.08,163.05 L440.03,163.30 L440.99,164.00 L441.95,164.61 L442.91,164.82 L443.87,165.02 L444.83,164.69 L445.78,164.42 L446.74,164.92 L447.70,165.46 L448.66,165.81 L449.62,166.17 L450.58,166.35 L451.53,166.52 M529.53,157.18 L530.49,157.49 L531.45,158.00 L532.41,158.21 L533.37,158.32 L534.33,158.67 L535.28,159.09 L536.24,159.81 L537.20,160.61 L538.16,160.90 L539.12,161.20 L540.08,162.33 L541.03,163.38 L541.99,163.85 L542.95,164.32 L543.91,165.11 L544.87,165.84 L545.83,165.59 L546.78,165.20 L547.74,165.05 L548.70,164.74 L549.66,164.54 L550.62,164.28 L551.58,164.01 L552.53,163.80 L553.49,163.87 L554.45,163.96 L555.41,164.03 L556.37,164.10 L557.33,163.46 L558.28,162.79 L559.24,162.43 L560.20,162.04 L561.16,161.32 L562.12,160.58 L563.08,160.10 L564.03,159.60 L564.99,159.16 L565.95,158.65 L566.91,158.49 L567.87,158.35 L568.83,157.97 L569.78,157.69 L570.74,157.08 L571.70,156.51 L572.66,156.07 L573.62,155.72 L574.58,156.17 L575.53,156.76 L576.49,156.85 L577.45,157.10 L578.41,157.51 L579.37,157.98 L580.33,158.40 L581.28,158.77 L582.24,159.24 L583.20,159.75 L584.16,161.07 L585.12,162.36 L586.08,162.39 L587.03,162.32 L587.99,162.74 L588.95,163.06 L589.91,163.19 L590.87,163.29 L591.83,163.46 L592.78,163.69 L593.74,164.20 L594.70,164.75 L595.66,164.47 L596.62,164.21 L597.58,164.79 L598.53,165.36 M59.23,207.53 L60.19,207.60 L61.14,207.60 L62.10,207.97 L63.06,208.55 L64.02,208.81 L64.98,209.06 L65.94,209.20 L66.89,209.32 L67.85,209.21 L68.81,209.10 L69.77,209.45 L70.73,209.82 L71.69,209.77 L72.64,209.75 L73.60,210.41 L74.56,211.08 L75.52,211.36 L76.48,211.61 L77.44,212.10 L78.39,212.59 L79.35,212.09 L80.31,211.56 L81.27,211.83 L82.23,212.06 L83.19,212.05 L84.14,211.99 L85.10,212.44 L86.06,212.84 L87.02,212.17 L87.98,211.47 L88.94,211.22 L89.89,210.92 L90.85,210.08 L91.81,209.22 L92.77,209.10 L93.73,209.00 L94.69,209.13 L95.64,209.25 L96.60,208.67 L97.56,208.09 L98.52,207.57 L99.48,207.07 L100.44,206.50 L101.39,205.90 L102.35,205.43 L103.31,205.04 L104.27,205.12 L105.23,205.35 L106.19,205.33 L107.14,205.47 L108.10,206.55 L109.06,207.68 L110.02,207.52 L110.98,207.29 L111.94,207.65 L112.89,208.02 L113.85,208.63 L114.81,209.22 L115.77,209.38 L116.73,209.48 L117.69,209.38 L118.64,209.23 L119.60,209.19 L120.56,209.14 L121.52,209.29 L122.48,209.46 L123.44,210.08 L124.39,210.69 L125.35,210.28 L126.31,209.88 L127.27,210.05 L128.23,210.22 M182.53,195.71 L183.49,195.88 L184.45,195.90 L185.41,196.10 L186.37,196.43 L187.33,196.85 L188.28,197.43 L189.24,197.75 L190.20,198.24 L191.16,199.24 L192.12,200.27 L193.08,201.42 L194.03,202.46 L194.99,203.11 L195.95,203.73 L196.91,204.59 L197.87,205.38 L198.83,206.02 L199.78,206.56 L200.74,206.91 L201.70,207.17 L202.66,207.41 L203.62,207.57 L204.58,207.44 L205.53,207.22 L206.49,207.07 L207.45,206.80 L208.41,206.31 L209.37,205.77 L210.33,205.34 L211.28,204.92 L212.24,204.44 L213.20,203.95 L214.16,203.48 L215.12,202.99 L216.08,202.36 L217.03,201.68 L217.99,201.11 L218.95,200.44 L219.91,199.69 L220.87,198.96 L221.83,198.32 L222.78,197.83 L223.74,197.38 L224.70,196.98 L225.66,196.42 L226.62,196.00 L227.58,195.61 L228.53,195.44 L229.49,195.71 L230.45,196.26 L231.41,197.07 L232.37,197.95 L233.33,199.13 L234.28,200.16 L235.24,200.89 L236.20,201.57 L237.16,202.29 L238.12,202.96 L239.08,203.20 L240.03,203.40 L240.99,203.72 L241.95,203.99 L242.91,203.95 L243.87,203.90 L244.83,204.54 L245.78,205.20 L246.74,205.72 L247.70,206.24 L248.66,205.98 L249.62,205.72 L250.58,206.54 L251.53,207.37 M309.53,191.72 L310.49,192.25 L311.45,192.82 L312.41,192.97 L313.37,192.94 L314.33,193.51 L315.28,194.29 L316.24,195.06 L317.20,196.06 L318.16,198.07 L319.12,200.11 L320.08,201.23 L321.03,202.20 L321.99,203.33 L322.95,204.45 L323.91,205.25 L324.87,205.93 L325.83,206.81 L326.78,207.48 L327.74,207.65 L328.70,207.59 L329.66,207.35 L330.62,207.00 L331.58,206.96 L332.53,206.94 L333.49,206.83 L334.45,206.66 L335.41,206.27 L336.37,205.84 L337.33,205.06 L338.28,204.27 L339.24,204.58 L340.20,204.87 L341.16,203.56 L342.12,202.23 L343.08,201.82 L344.03,201.36 L344.99,200.35 L345.95,199.21 L346.91,198.56 L347.87,197.94 L348.83,197.33 L349.78,196.90 L350.74,196.28 L351.70,195.73 L352.66,195.60 L353.62,195.61 L354.58,195.49 L355.53,195.57 L356.49,196.24 L357.45,197.20 L358.41,198.02 L359.37,198.91 L360.33,200.10 L361.28,201.15 L362.24,201.52 L363.20,201.84 L364.16,202.79 L365.12,203.70 L366.08,204.35 L367.03,204.97 L367.99,205.52 L368.95,206.01 L369.91,206.71 L370.87,207.38 L371.83,207.19 L372.78,206.98 L373.74,207.37 L374.70,207.71 L375.66,208.30 L376.62,208.88 L377.58,208.73 L378.53,208.59 M435.30,194.94 L436.26,195.17 L437.21,195.34 L438.17,195.64 L439.13,196.09 L440.09,195.99 L441.05,196.05 L442.01,197.12 L442.96,198.37 L443.92,199.60 L444.88,200.86 L445.84,201.73 L446.80,202.49 L447.76,202.89 L448.71,203.30 L449.67,204.71 L450.63,206.06 L451.59,206.89 L452.55,207.58 L453.51,207.46 L454.46,207.22 L455.42,208.17 L456.38,209.02 L457.34,208.55 L458.30,208.03 L459.26,207.90 L460.21,207.69 L461.17,207.54 L462.13,207.33 L463.09,207.12 L464.05,206.87 L465.01,206.30 L465.96,205.69 L466.92,205.13 L467.88,204.52 L468.84,204.04 L469.80,203.52 L470.76,202.46 L471.71,201.30 L472.67,201.15 L473.63,201.02 L474.59,199.45 L475.55,198.03 L476.51,197.85 L477.46,197.71 L478.42,197.18 L479.38,196.79 L480.34,196.92 L481.30,197.30 L482.26,197.78 L483.21,198.59 L484.17,199.89 L485.13,201.24 L486.09,202.01 L487.05,202.56 L488.01,203.08 L488.96,203.47 L489.92,204.34 L490.88,205.16 L491.84,204.78 L492.80,204.44 L493.76,205.06 L494.71,205.68 L495.67,206.00 L496.63,206.31 L497.59,206.98 L498.55,207.62 L499.51,207.70 L500.46,207.75 L501.42,208.27 L502.38,208.77 L503.34,208.57 L504.30,208.39 M558.46,207.23 L559.42,207.30 L560.38,207.45 L561.34,207.63 L562.30,207.88 L563.25,208.32 L564.21,208.80 L565.17,209.06 L566.13,209.35 L567.09,209.50 L568.05,209.69 L569.00,210.23 L569.96,210.81 L570.92,210.98 L571.88,211.23 L572.84,211.87 L573.80,212.48 L574.75,212.50 L575.71,212.38 L576.67,212.94 L577.63,213.40 L578.59,213.46 L579.55,213.45 L580.50,213.67 L581.46,213.88 L582.42,213.47 L583.38,213.01 L584.34,212.74 L585.30,212.45 L586.25,212.32 L587.21,212.19 L588.17,211.85 L589.13,211.49 L590.09,210.87 L591.05,210.25 L592.00,210.28 L592.96,210.31 L593.92,210.17 L594.88,210.03 L595.84,209.76 L596.80,209.49 L597.75,209.14 L598.71,208.78 L599.67,208.53 L600.63,208.22 L601.59,208.10 L602.55,208.03 L603.50,207.38 L604.46,206.89 L605.42,207.32 L606.38,207.91 L607.34,208.26 L608.30,208.67 L609.25,209.23 L610.21,209.73 L611.17,210.19 L612.13,210.68 L613.09,211.24 L614.05,211.79 L615.00,211.41 L615.96,210.97 L616.92,211.73 L617.88,212.43 L618.84,212.33 L619.80,212.21 L620.75,212.18 L621.71,212.15 L622.67,212.65 L623.63,213.15 L624.59,213.21 L625.55,213.26 L626.50,213.14 L627.46,213.03 M213.66,265.70 L214.62,266.00 L215.58,266.20 L216.54,266.41 L217.50,266.63 L218.46,266.98 L219.41,267.40 L220.37,267.89 L221.33,268.43 L222.29,269.06 L223.25,269.71 L224.21,269.71 L225.16,269.70 L226.12,270.84 L227.08,272.02 L228.04,272.42 L229.00,272.79 L229.96,273.57 L230.91,274.25 L231.87,274.28 L232.83,274.24 L233.79,274.66 L234.75,275.04 L235.71,275.19 L236.66,275.31 L237.62,275.43 L238.58,275.49 L239.54,275.05 L240.50,274.58 L241.46,274.84 L242.41,275.07 L243.37,274.46 L244.33,273.83 L245.29,273.44 L246.25,273.02 L247.21,272.80 L248.16,272.53 L249.12,271.98 L250.08,271.34 L251.04,271.38 L252.00,271.43 L252.96,270.81 L253.91,270.27 L254.87,269.25 L255.83,268.24 L256.79,268.27 L257.75,268.37 L258.71,268.33 L259.66,268.42 L260.62,268.56 L261.58,268.85 L262.54,269.09 L263.50,269.40 L264.46,269.85 L265.41,270.29 L266.37,271.12 L267.33,272.01 L268.29,272.36 L269.25,272.70 L270.21,273.02 L271.16,273.26 L272.12,273.83 L273.08,274.34 L274.04,274.33 L275.00,274.29 L275.96,274.53 L276.91,274.76 L277.87,275.13 L278.83,275.47 L279.79,275.35 L280.75,275.22 L281.71,275.92 L282.66,276.63 M309.53,273.76 L310.49,273.81 L311.45,273.68 L312.41,273.75 L313.37,273.92 L314.33,274.02 L315.28,274.21 L316.24,274.67 L317.20,275.20 L318.16,275.60 L319.12,276.05 L320.08,276.66 L321.03,277.29 L321.99,277.85 L322.95,278.49 L323.91,279.34 L324.87,280.17 L325.83,280.39 L326.78,280.51 L327.74,281.91 L328.70,283.24 L329.66,283.07 L330.62,282.84 L331.58,282.38 L332.53,281.86 L333.49,282.33 L334.45,282.73 L335.41,282.37 L336.37,281.94 L337.33,281.66 L338.28,281.35 L339.24,281.50 L340.20,281.57 L341.16,280.36 L342.12,279.14 L343.08,279.07 L344.03,279.06 L344.99,279.04 L345.95,279.05 L346.91,278.29 L347.87,277.56 L348.83,277.91 L349.78,278.28 L350.74,277.77 L351.70,277.23 L352.66,277.11 L353.62,277.06 L354.58,277.35 L355.53,277.78 L356.49,277.78 L357.45,277.96 L358.41,278.76 L359.37,279.59 L360.33,280.25 L361.28,280.80 L362.24,280.72 L363.20,280.58 L364.16,280.87 L365.12,281.13 L366.08,281.73 L367.03,282.32 L367.99,282.33 L368.95,282.30 L369.91,282.62 L370.87,282.93 L371.83,283.23 L372.78,283.55 L373.74,282.94 L374.70,282.33 L375.66,282.64 L376.62,282.95 L377.58,283.20 L378.53,283.45 M404.53,265.70 L405.49,265.86 L406.45,266.27 L407.41,266.80 L408.37,267.53 L409.33,266.97 L410.28,266.47 L411.24,267.20 L412.20,267.98 L413.16,268.51 L414.12,269.07 L415.08,269.68 L416.03,270.30 L416.99,271.05 L417.95,271.87 L418.91,272.54 L419.87,273.19 L420.83,273.81 L421.78,274.30 L422.74,273.88 L423.70,273.36 L424.66,273.74 L425.62,274.06 L426.58,274.97 L427.53,275.86 L428.49,275.66 L429.45,275.42 L430.41,274.69 L431.37,273.93 L432.33,274.07 L433.28,274.18 L434.24,274.21 L435.20,274.21 L436.16,273.68 L437.12,273.12 L438.08,272.90 L439.03,272.67 L439.99,272.08 L440.95,271.44 L441.91,271.14 L442.87,270.84 L443.83,271.15 L444.78,271.49 L445.74,270.71 L446.70,269.91 L447.66,269.50 L448.62,269.16 L449.58,269.16 L450.53,269.33 L451.49,269.28 L452.45,269.45 L453.41,270.30 L454.37,271.20 L455.33,271.70 L456.28,272.08 L457.24,272.60 L458.20,273.05 L459.16,272.93 L460.12,272.77 L461.08,273.16 L462.03,273.57 L462.99,274.10 L463.95,274.62 L464.91,274.70 L465.87,274.76 L466.83,274.63 L467.78,274.46 L468.74,274.36 L469.70,274.23 L470.66,274.90 L471.62,275.56 L472.58,275.61 L473.53,275.66" fill="none" stroke="#f41c1c" stroke-width="1.0" stroke-linejoin="round"/>
<g font-family="Liberation Sans, sans-serif" font-size="6.6" fill="#2a2a2a" stroke="#2a2a2a" stroke-width="0.15">
<text transform="translate(69.30,4.59) scale(0.88,1)" text-anchor="middle">F7</text>
<text transform="translate(199.95,15.71) scale(0.88,1)" text-anchor="middle">F3</text>
<text transform="translate(335.82,18.87) scale(0.88,1)" text-anchor="middle">FZ</text>
<text transform="translate(470.92,15.71) scale(0.88,1)" text-anchor="middle">F4</text>
<text transform="translate(601.58,5.05) scale(0.88,1)" text-anchor="middle">F8</text>
<text transform="translate(102.27,53.87) scale(0.88,1)" text-anchor="middle">FC5</text>
<text transform="translate(258.46,58.71) scale(0.88,1)" text-anchor="middle">FC1</text>
<text transform="translate(337.73,59.01) scale(0.88,1)" text-anchor="middle">FCZ</text>
<text transform="translate(416.47,58.71) scale(0.88,1)" text-anchor="middle">FC2</text>
<text transform="translate(572.65,54.48) scale(0.88,1)" text-anchor="middle">FC6</text>
<text transform="translate(6.42,98.87) scale(0.88,1)" text-anchor="middle">T7</text>
<text transform="translate(171.41,99.18) scale(0.88,1)" text-anchor="middle">C3</text>
<text transform="translate(336.05,98.87) scale(0.88,1)" text-anchor="middle">CZ</text>
<text transform="translate(499.91,98.87) scale(0.88,1)" text-anchor="middle">C4</text>
<text transform="translate(649.92,98.87) scale(0.88,1)" text-anchor="middle">T8</text>
<text transform="translate(102.43,144.18) scale(0.88,1)" text-anchor="middle">CP5</text>
<text transform="translate(258.62,139.94) scale(0.88,1)" text-anchor="middle">CP1</text>
<text transform="translate(416.47,139.94) scale(0.88,1)" text-anchor="middle">CP2</text>
<text transform="translate(573.03,144.18) scale(0.88,1)" text-anchor="middle">CP6</text>
<text transform="translate(69.30,193.00) scale(0.88,1)" text-anchor="middle">P7</text>
<text transform="translate(199.95,181.94) scale(0.88,1)" text-anchor="middle">P3</text>
<text transform="translate(335.82,178.87) scale(0.88,1)" text-anchor="middle">PZ</text>
<text transform="translate(470.92,181.94) scale(0.88,1)" text-anchor="middle">P4</text>
<text transform="translate(601.58,193.00) scale(0.88,1)" text-anchor="middle">P8</text>
<text transform="translate(233.83,251.47) scale(0.88,1)" text-anchor="middle">O1</text>
<text transform="translate(336.05,259.07) scale(0.88,1)" text-anchor="middle">OZ</text>
<text transform="translate(437.63,251.47) scale(0.88,1)" text-anchor="middle">O2</text>
</g>
<line x1="503" y1="261.5" x2="519.6" y2="261.5" stroke="#4a4a4a" stroke-width="1.3"/>
<text x="521" y="263.90" textLength="52.5" lengthAdjust="spacingAndGlyphs" font-family="Liberation Sans, sans-serif" font-size="6.5" fill="#444">Predictable-Iconic</text>
<line x1="503" y1="269.5" x2="519.6" y2="269.5" stroke="#c2c2c2" stroke-width="1.3"/>
<text x="521" y="271.90" textLength="57.3" lengthAdjust="spacingAndGlyphs" font-family="Liberation Sans, sans-serif" font-size="6.5" fill="#444">Predictable-Control</text>
<line x1="503" y1="278.5" x2="519.6" y2="278.5" stroke="#ec2c3c" stroke-width="1.3"/>
<text x="521" y="280.10" textLength="67.0" lengthAdjust="spacingAndGlyphs" font-family="Liberation Sans, sans-serif" font-size="6.5" fill="#444">Non-Predictable-Iconic</text>
<line x1="503" y1="286.5" x2="519.6" y2="286.5" stroke="#ffc4c8" stroke-width="1.3"/>
<text x="521" y="288.30" textLength="72.1" lengthAdjust="spacingAndGlyphs" font-family="Liberation Sans, sans-serif" font-size="6.5" fill="#444">Non-Predictable-Control</text>
<line x1="606.2" y1="273.3" x2="674.7" y2="273.3" stroke="#a8a8a8" stroke-width="0.9"/>
<line x1="629.3" y1="257.5" x2="629.3" y2="294" stroke="#d6d6d6" stroke-width="1"/>
<line x1="629.3" y1="258.5" x2="629.3" y2="294" stroke="#a4a4a4" stroke-width="1" stroke-dasharray="1.3 3.3"/>
<text x="626.4" y="261.7" text-anchor="end" font-family="Liberation Sans, sans-serif" font-size="7.7" fill="#474747">-7</text>
<text x="631" y="259.5" text-anchor="start" font-family="Liberation Sans, sans-serif" font-size="7.7" fill="#474747">[&#956;V]</text>
<text x="674.2" y="270.2" text-anchor="end" font-family="Liberation Sans, sans-serif" font-size="7.7" fill="#474747">Time [s]</text>
<text x="603.9" y="280.9" text-anchor="start" font-family="Liberation Sans, sans-serif" font-size="7.7" fill="#474747">-0.4</text>
<text x="623.8" y="280.9" text-anchor="start" font-family="Liberation Sans, sans-serif" font-size="7.7" fill="#474747">0</text>
<text x="641.8" y="280.9" text-anchor="start" font-family="Liberation Sans, sans-serif" font-size="7.7" fill="#474747">0.4</text>
<text x="660.7" y="280.9" text-anchor="start" font-family="Liberation Sans, sans-serif" font-size="7.7" fill="#474747">0.8</text>
<text x="623.6" y="292.6" text-anchor="start" font-family="Liberation Sans, sans-serif" font-size="7.7" fill="#474747">7</text>
</svg></body></html>
